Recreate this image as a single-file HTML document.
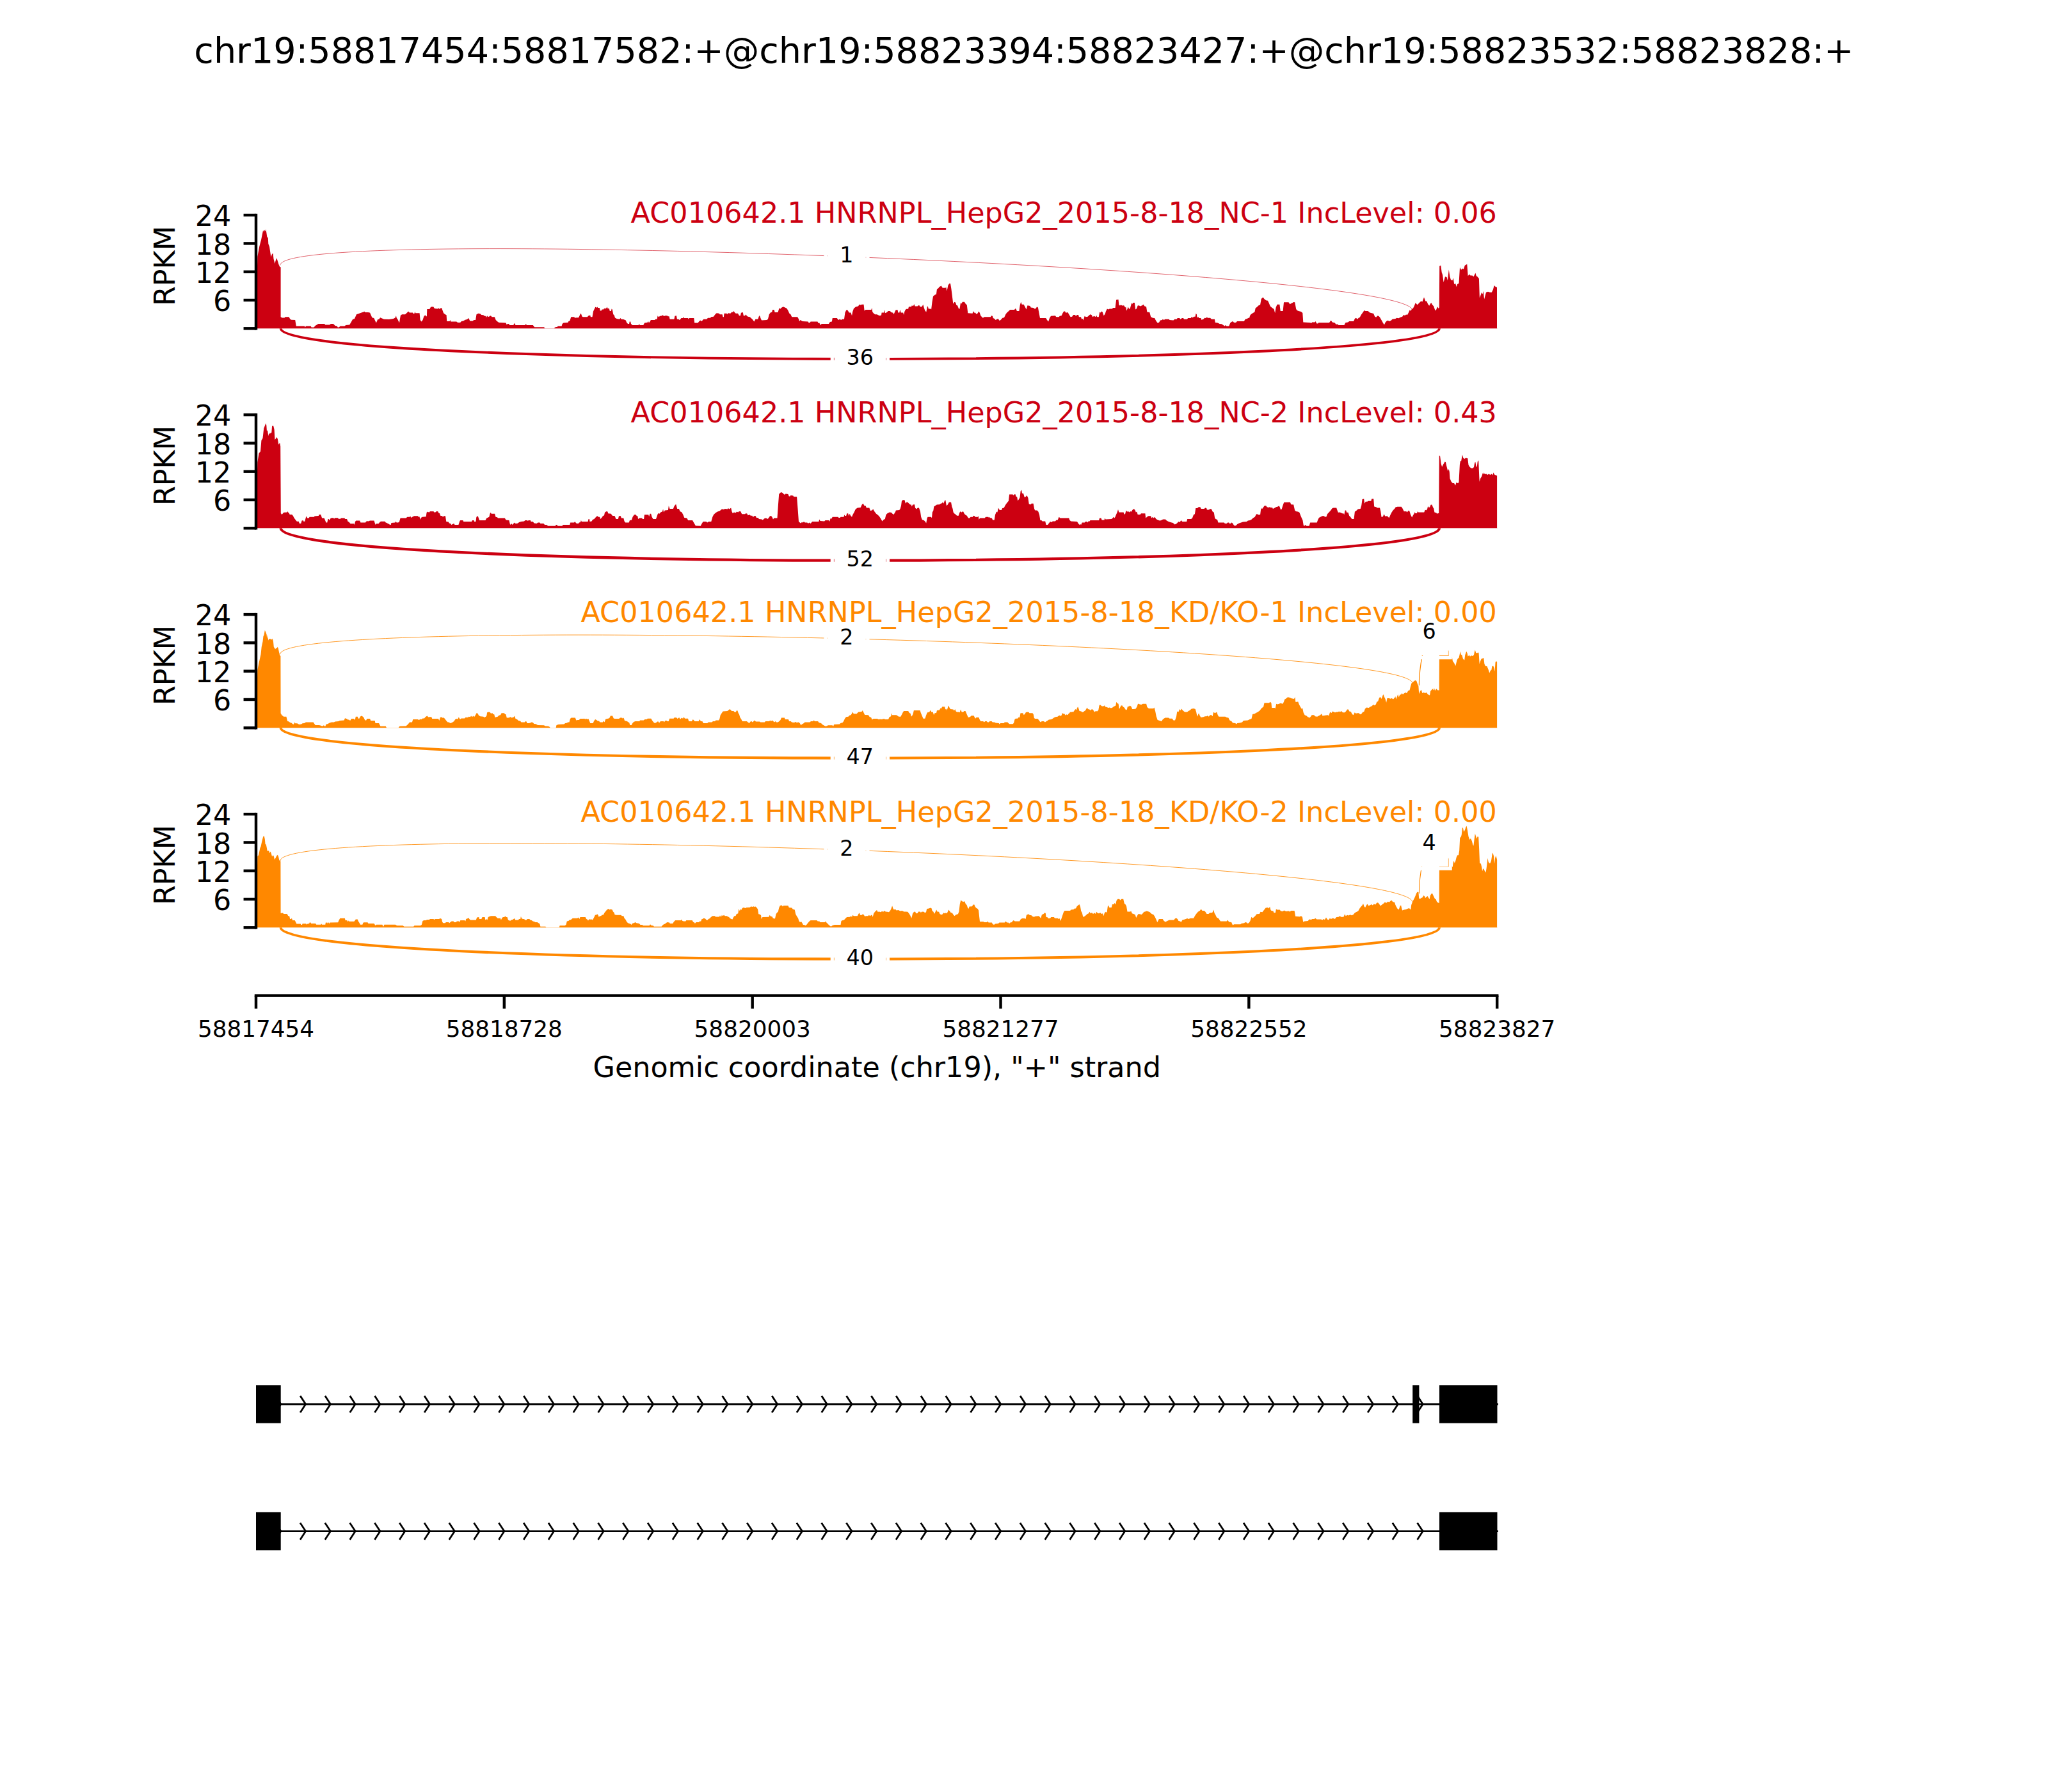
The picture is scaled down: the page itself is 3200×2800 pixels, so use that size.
<!DOCTYPE html><html><head><meta charset="utf-8"><title>sashimi</title><style>html,body{margin:0;padding:0;background:#fff}svg{display:block}</style></head><body>
<svg width="3200" height="2800" viewBox="0 0 3200 2800" font-family="DejaVu Sans, Liberation Sans, sans-serif">
<rect width="3200" height="2800" fill="#fff"/>
<text x="1600.0" y="98.0" font-size="55.56" text-anchor="middle" fill="#000" >chr19:58817454:58817582:+@chr19:58823394:58823427:+@chr19:58823532:58823828:+</text>
<g>
<path d="M400.0,513.3 L402.3,400.9 L405.2,385.6 L408.1,374.5 L411.1,359.8 L412.2,362.2 L413.4,359.3 L414.6,361.6 L415.5,358.1 L417.5,371.6 L418.7,370.4 L419.3,380.9 L421.0,385.6 L423.4,401.4 L425.1,396.8 L426.6,395.9 L427.5,404.4 L429.5,412.0 L430.6,407.3 L432.4,403.2 L433.9,407.9 L435.7,413.8 L437.4,417.3 L438.6,417.3 L438.6,495.2 L440.7,496.6 L444.6,496.6 L445.6,495.2 L451.5,495.2 L453.4,498.7 L455.4,499.7 L461.2,500.1 L462.8,509.5 L475.9,509.5 L476.9,511.4 L477.9,509.5 L485.7,509.5 L486.6,511.4 L490.5,511.4 L492.5,508.9 L497.4,505.9 L507.1,505.9 L508.1,507.5 L515.0,507.5 L516.9,505.9 L520.8,505.9 L523.8,508.9 L526.7,509.5 L527.7,511.4 L529.6,511.4 L531.6,509.5 L538.4,509.5 L540.4,507.9 L546.2,507.5 L551.1,499.1 L554.0,498.1 L557.0,491.3 L559.9,490.3 L564.8,488.4 L569.6,486.8 L570.6,488.0 L575.5,488.0 L576.9,488.4 L578.0,488.4 L581.4,496.2 L584.3,497.1 L587.8,504.4 L590.2,499.1 L592.1,499.1 L594.1,496.2 L599.9,498.7 L607.7,499.1 L609.7,498.7 L614.6,498.1 L617.5,496.6 L618.9,493.2 L619.8,497.1 L621.4,499.1 L623.9,504.4 L625.9,492.7 L628.2,491.3 L633.1,491.3 L636.1,488.4 L638.0,486.4 L640.0,488.4 L644.8,488.4 L645.8,489.9 L647.4,489.9 L648.4,486.8 L649.1,489.3 L655.6,489.3 L656.6,500.1 L658.5,502.4 L660.5,500.1 L662.4,494.2 L664.4,492.3 L665.7,494.2 L666.9,494.2 L667.3,482.9 L671.2,482.9 L673.2,479.6 L677.1,479.2 L679.0,482.1 L683.9,482.5 L684.9,480.9 L685.9,482.5 L687.8,482.5 L688.8,480.9 L690.2,481.5 L691.7,485.4 L693.1,489.3 L695.6,491.3 L697.6,492.3 L698.2,502.0 L702.5,502.0 L703.4,500.1 L704.4,502.4 L713.2,502.4 L715.2,504.0 L719.1,504.0 L721.0,502.0 L723.9,501.6 L726.9,499.7 L729.8,499.1 L732.3,497.1 L734.3,501.6 L738.6,501.6 L740.5,500.1 L743.1,500.1 L744.5,491.3 L747.4,489.7 L750.3,490.3 L752.3,491.9 L755.2,492.3 L757.1,493.8 L758.7,493.8 L759.7,496.2 L761.1,493.2 L762.6,495.2 L765.0,494.2 L765.9,493.2 L767.5,493.8 L768.5,495.2 L772.8,495.2 L774.7,500.1 L776.7,502.0 L779.6,504.0 L790.4,504.4 L791.9,507.5 L792.9,505.9 L795.2,505.9 L796.2,507.9 L802.1,507.9 L804.4,504.4 L805.4,507.9 L820.6,507.9 L821.6,505.9 L823.0,507.9 L828.4,507.9 L832.7,507.9 L835.2,511.2 L850.3,511.2 L851.2,513.2 L865.9,513.2 L866.9,511.4 L870.8,510.8 L871.8,509.5 L877.6,509.5 L878.6,505.9 L880.5,504.4 L887.4,504.0 L888.4,502.0 L890.3,501.6 L892.3,495.2 L897.1,495.2 L898.1,496.6 L901.1,496.6 L901.6,495.2 L902.4,496.6 L904.0,496.2 L905.0,494.6 L906.9,490.3 L907.9,489.9 L909.5,494.6 L910.8,495.2 L917.7,495.2 L919.6,493.2 L921.2,493.2 L922.0,491.9 L922.9,495.2 L925.5,495.2 L927.0,486.4 L928.4,483.5 L930.4,479.6 L931.7,480.9 L933.3,479.6 L934.3,480.9 L936.8,480.9 L937.8,485.4 L939.5,485.4 L940.7,483.5 L943.0,483.5 L944.0,482.1 L947.0,482.1 L948.5,479.6 L949.5,482.1 L951.8,482.1 L952.8,486.0 L954.8,486.0 L955.7,482.5 L956.7,483.5 L958.3,491.3 L959.6,492.3 L961.0,496.6 L963.6,498.1 L968.0,498.7 L969.4,497.1 L970.8,498.7 L974.3,499.1 L977.8,500.5 L979.2,504.0 L981.1,505.9 L983.1,505.9 L983.7,502.4 L985.2,502.4 L986.0,505.9 L988.0,507.9 L997.7,507.9 L998.7,505.9 L999.7,507.9 L1005.2,507.9 L1007.1,504.4 L1011.4,504.0 L1013.0,502.0 L1013.9,504.4 L1015.9,502.0 L1016.9,500.1 L1023.1,500.1 L1024.1,498.7 L1026.6,498.7 L1027.6,493.2 L1029.0,495.2 L1031.5,493.8 L1034.8,493.2 L1035.8,491.9 L1036.8,493.8 L1038.4,493.8 L1039.1,493.2 L1042.7,493.2 L1043.6,494.2 L1045.6,494.2 L1046.6,498.7 L1053.4,498.7 L1054.4,493.8 L1056.9,493.2 L1057.9,498.7 L1060.2,498.7 L1061.8,500.1 L1063.2,498.7 L1064.5,497.1 L1067.1,497.1 L1068.0,495.2 L1069.0,497.1 L1074.9,497.1 L1075.9,498.7 L1076.8,497.1 L1084.3,497.1 L1085.2,504.4 L1090.5,504.4 L1092.5,502.0 L1094.4,500.5 L1095.4,502.0 L1097.3,501.1 L1099.3,498.7 L1104.2,498.7 L1106.1,496.8 L1110.0,496.8 L1111.0,495.2 L1114.9,494.8 L1117.9,490.7 L1119.8,489.3 L1123.7,489.7 L1124.7,491.3 L1128.6,491.3 L1129.6,495.2 L1130.9,495.2 L1131.5,489.7 L1135.4,489.7 L1136.4,491.3 L1137.4,489.3 L1141.3,489.7 L1143.2,487.8 L1145.2,487.8 L1146.6,486.0 L1148.1,488.4 L1149.7,489.7 L1153.0,489.7 L1155.0,493.2 L1156.9,493.2 L1157.9,488.8 L1160.8,488.0 L1161.8,493.2 L1164.1,493.2 L1165.3,491.3 L1166.7,493.2 L1168.6,494.8 L1171.6,495.2 L1173.5,497.1 L1175.5,498.7 L1178.4,502.4 L1180.4,498.7 L1184.3,498.7 L1186.2,493.2 L1187.2,493.8 L1189.1,498.7 L1190.1,500.5 L1197.9,500.1 L1199.9,498.7 L1201.8,491.3 L1203.8,488.4 L1206.3,487.4 L1207.1,484.1 L1209.6,484.1 L1210.6,488.0 L1215.5,488.0 L1217.5,481.5 L1219.4,482.5 L1220.7,480.9 L1223.7,479.2 L1226.6,480.5 L1229.5,482.1 L1231.5,485.4 L1233.4,489.7 L1235.4,491.3 L1237.3,495.2 L1246.1,495.2 L1248.1,498.7 L1249.1,502.0 L1250.6,500.1 L1253.9,502.0 L1262.7,502.4 L1263.7,504.4 L1265.7,504.0 L1266.6,502.4 L1277.4,502.4 L1278.8,505.0 L1280.3,504.4 L1281.9,507.9 L1283.8,505.9 L1295.0,505.9 L1296.9,503.0 L1299.8,502.4 L1300.8,497.1 L1307.7,497.1 L1310.0,500.1 L1312.0,498.7 L1314.5,500.1 L1315.5,498.7 L1319.0,498.7 L1320.4,488.4 L1322.3,484.5 L1324.3,484.5 L1326.8,488.4 L1329.5,488.4 L1331.1,493.2 L1332.1,487.4 L1334.0,482.1 L1337.0,479.6 L1340.9,478.6 L1342.8,475.7 L1344.8,476.6 L1346.7,475.7 L1349.6,475.7 L1350.6,485.4 L1352.6,484.1 L1361.4,484.1 L1362.3,480.9 L1363.3,487.4 L1365.3,489.7 L1367.2,491.3 L1370.2,491.3 L1372.1,492.3 L1374.1,493.2 L1377.0,492.7 L1377.6,488.4 L1380.9,488.4 L1381.5,484.1 L1382.9,489.3 L1385.8,488.0 L1387.7,486.0 L1390.7,486.0 L1392.6,488.0 L1395.5,488.8 L1396.5,491.3 L1397.9,488.0 L1399.5,484.5 L1402.4,484.1 L1403.4,488.4 L1405.3,488.4 L1406.3,484.1 L1407.7,488.4 L1411.2,488.4 L1412.1,491.9 L1413.5,486.4 L1415.1,483.5 L1417.0,482.5 L1419.0,482.9 L1420.0,479.2 L1423.9,479.2 L1424.8,477.2 L1426.8,478.2 L1428.4,475.3 L1429.7,478.6 L1433.6,478.6 L1434.6,477.2 L1436.6,477.2 L1437.5,479.2 L1440.5,479.2 L1442.4,475.7 L1443.8,480.9 L1445.4,485.4 L1447.3,487.4 L1448.7,479.6 L1449.8,478.6 L1450.8,482.5 L1454.1,482.5 L1455.1,483.5 L1456.5,471.8 L1458.0,463.0 L1461.0,460.6 L1462.9,460.0 L1463.9,452.2 L1466.2,450.3 L1467.8,448.3 L1470.7,446.4 L1472.7,449.7 L1477.6,449.7 L1478.2,448.3 L1479.5,454.8 L1481.5,445.4 L1483.4,443.0 L1485.0,443.0 L1486.4,451.2 L1487.7,461.4 L1489.3,474.7 L1491.2,471.8 L1493.2,472.7 L1494.2,476.6 L1496.1,477.6 L1498.1,482.5 L1499.5,482.5 L1501.0,472.7 L1502.0,474.7 L1503.9,471.8 L1506.9,471.8 L1508.8,474.7 L1510.8,476.6 L1512.3,489.3 L1519.6,489.7 L1520.5,486.0 L1522.1,488.4 L1524.1,488.8 L1525.4,490.7 L1527.4,489.7 L1529.3,486.4 L1530.7,488.4 L1532.3,493.2 L1534.2,495.2 L1535.8,496.8 L1538.1,495.2 L1547.9,495.2 L1548.9,493.2 L1550.8,493.8 L1551.8,497.1 L1553.8,498.1 L1555.7,500.1 L1557.7,498.7 L1559.6,498.1 L1561.6,501.1 L1563.5,500.1 L1566.4,496.8 L1569.0,496.2 L1571.3,491.3 L1573.3,488.4 L1576.2,486.0 L1578.2,484.1 L1585.0,484.1 L1586.6,482.1 L1587.9,483.5 L1588.9,486.0 L1592.4,486.0 L1593.8,476.6 L1595.2,471.8 L1596.7,475.7 L1599.6,475.7 L1601.6,479.6 L1603.6,483.5 L1605.5,477.2 L1609.4,478.0 L1610.7,480.5 L1614.6,480.9 L1616.6,482.5 L1618.6,482.1 L1620.1,479.2 L1621.9,480.5 L1623.4,488.4 L1625.0,497.1 L1634.2,497.1 L1636.1,500.1 L1638.1,502.4 L1640.0,497.1 L1642.0,493.8 L1648.8,493.2 L1650.4,495.2 L1654.7,495.2 L1655.7,493.8 L1658.6,493.2 L1660.2,489.7 L1662.1,486.4 L1664.1,486.4 L1665.4,488.8 L1668.4,488.0 L1670.3,491.3 L1672.7,495.2 L1675.2,494.8 L1677.1,491.9 L1679.7,491.9 L1681.1,493.8 L1683.0,491.9 L1685.0,491.9 L1685.9,495.2 L1688.9,495.2 L1690.2,498.7 L1691.8,498.1 L1692.8,500.5 L1694.7,493.8 L1696.7,495.2 L1699.6,494.8 L1701.6,492.7 L1703.5,491.3 L1705.5,491.9 L1707.4,495.2 L1709.4,493.8 L1712.3,495.2 L1713.3,492.7 L1714.3,495.2 L1716.8,495.2 L1718.2,487.4 L1719.5,488.4 L1721.1,486.4 L1722.7,487.4 L1724.6,493.2 L1726.6,490.7 L1727.9,486.4 L1729.9,482.5 L1731.8,483.5 L1733.8,482.5 L1737.7,482.5 L1739.1,480.9 L1742.6,480.9 L1744.1,468.4 L1747.5,467.9 L1748.4,476.6 L1750.0,477.6 L1751.4,476.2 L1753.3,477.6 L1756.2,477.2 L1758.2,480.5 L1759.2,479.2 L1760.2,485.4 L1761.7,482.5 L1762.5,479.2 L1764.1,482.5 L1765.6,482.5 L1767.0,477.6 L1768.0,473.7 L1769.5,474.7 L1770.3,473.1 L1772.9,473.1 L1774.2,483.5 L1775.8,482.5 L1777.7,477.6 L1779.7,477.2 L1781.6,478.6 L1784.6,477.2 L1786.5,475.7 L1788.5,478.6 L1791.0,479.2 L1792.4,487.4 L1796.3,488.0 L1798.2,495.2 L1801.2,496.8 L1804.1,497.1 L1806.1,501.1 L1808.6,504.4 L1810.9,504.0 L1812.9,500.5 L1815.8,500.1 L1816.8,498.7 L1818.8,500.1 L1820.3,498.7 L1826.6,498.7 L1827.5,500.1 L1833.4,500.5 L1835.4,498.7 L1838.7,498.7 L1839.8,497.1 L1843.2,497.1 L1844.1,498.7 L1847.1,497.1 L1849.0,497.1 L1850.0,498.7 L1854.9,498.7 L1856.2,497.1 L1860.7,497.1 L1861.7,495.2 L1863.7,496.2 L1865.6,494.8 L1867.6,494.8 L1868.6,489.7 L1869.9,491.3 L1870.5,496.2 L1872.5,495.2 L1873.4,497.1 L1876.4,497.1 L1877.3,499.7 L1880.3,498.7 L1882.2,496.8 L1884.8,497.1 L1885.5,495.2 L1887.1,496.8 L1891.0,496.8 L1893.0,498.7 L1897.9,498.7 L1898.8,504.0 L1902.7,504.4 L1905.7,505.9 L1908.6,506.3 L1911.5,507.9 L1913.5,509.5 L1914.8,507.9 L1916.4,509.5 L1920.3,509.5 L1922.3,504.4 L1924.2,503.0 L1926.2,502.0 L1928.1,504.0 L1931.1,504.0 L1933.0,502.0 L1943.8,502.0 L1945.7,498.7 L1948.6,498.1 L1950.6,496.8 L1952.1,496.8 L1953.1,493.2 L1954.5,491.3 L1957.4,489.3 L1960.4,487.4 L1961.7,481.5 L1964.3,479.6 L1966.2,477.6 L1969.1,476.2 L1970.7,466.9 L1973.4,464.5 L1975.4,466.9 L1977.0,468.4 L1978.9,469.4 L1980.9,469.8 L1982.4,472.7 L1984.8,478.6 L1987.7,480.9 L1990.6,482.9 L1992.2,489.3 L1993.6,480.5 L1995.5,475.7 L1999.4,475.7 L2000.7,486.0 L2004.6,486.0 L2006.0,472.3 L2013.4,472.3 L2015.4,475.3 L2017.3,474.3 L2019.3,473.3 L2021.2,472.0 L2023.2,472.3 L2025.2,483.1 L2026.7,485.0 L2029.1,486.0 L2033.0,487.0 L2035.3,488.9 L2036.3,503.6 L2047.6,504.2 L2048.6,505.2 L2050.2,503.6 L2054.5,503.6 L2055.4,502.0 L2057.4,505.5 L2059.3,505.5 L2060.3,504.2 L2076.9,504.2 L2078.9,501.6 L2079.8,500.7 L2081.8,503.6 L2085.7,504.6 L2087.7,507.1 L2089.6,506.5 L2091.6,507.9 L2100.4,507.9 L2102.3,504.2 L2106.2,503.6 L2108.2,502.0 L2115.0,502.0 L2117.0,497.7 L2118.9,496.8 L2120.9,498.7 L2122.8,496.8 L2124.8,495.8 L2126.7,491.9 L2129.6,488.0 L2131.6,485.0 L2133.6,486.0 L2137.5,486.0 L2140.4,488.4 L2144.3,489.5 L2146.2,489.9 L2148.2,494.8 L2150.2,495.8 L2152.1,493.4 L2154.1,493.8 L2156.0,495.8 L2158.9,500.7 L2160.9,504.6 L2162.9,507.5 L2164.8,503.6 L2166.8,501.6 L2168.7,500.7 L2170.7,502.0 L2173.6,500.7 L2175.5,498.7 L2180.4,498.1 L2182.4,496.8 L2185.3,497.3 L2188.2,495.8 L2191.2,494.8 L2193.1,491.9 L2195.1,492.9 L2197.0,491.5 L2199.0,491.9 L2200.9,488.4 L2202.9,484.1 L2204.5,486.0 L2205.8,483.1 L2207.8,482.1 L2209.7,478.2 L2211.7,473.3 L2214.6,476.2 L2216.6,474.3 L2218.5,472.3 L2220.5,470.4 L2222.4,471.4 L2225.0,464.5 L2227.3,470.4 L2229.3,470.8 L2231.2,475.3 L2233.2,477.8 L2235.1,474.3 L2236.5,473.3 L2238.0,476.2 L2240.0,478.2 L2242.0,483.7 L2243.5,485.6 L2245.9,479.2 L2247.8,482.1 L2248.8,480.2 L2249.2,415.7 L2251.3,414.7 L2252.7,425.5 L2254.1,429.4 L2255.6,441.1 L2258.0,432.3 L2260.5,432.9 L2261.9,438.2 L2263.8,421.6 L2265.4,432.3 L2267.0,437.2 L2269.3,438.2 L2270.7,434.3 L2272.2,444.0 L2274.2,443.0 L2275.7,447.9 L2277.1,444.0 L2279.5,442.7 L2281.0,417.7 L2283.0,421.6 L2285.3,419.6 L2286.9,420.6 L2288.8,414.7 L2292.3,412.8 L2293.7,431.3 L2295.7,428.4 L2297.6,430.4 L2300.5,430.4 L2302.5,432.3 L2305.4,426.4 L2306.8,431.3 L2308.4,432.3 L2310.9,435.2 L2311.9,465.5 L2313.8,460.6 L2315.2,456.7 L2316.6,459.6 L2317.7,454.8 L2319.1,467.5 L2322.0,456.7 L2325.0,455.7 L2327.9,456.7 L2330.8,456.7 L2332.8,452.8 L2334.7,446.0 L2336.7,447.9 L2339.0,448.9 L2339.0,513.3 Z M400.0,513.05H2339.5V513.30H400.0Z" fill="#CC0011"/>
<path d="M437.7,414.5 C437.7,349.3 2207.2,420.0 2207.2,485.2" fill="none" stroke="#CC0011" stroke-width="0.62"/><path d="M438.7,513.3 C438.7,576.8 2249.0,576.8 2249.0,513.3" fill="none" stroke="#CC0011" stroke-width="3.90"/><path d="M1287.37,359.82H1358.53V442.08H1287.37ZM1292.63,365.08H1353.27V436.82H1292.63ZM1293.23,365.68H1352.67V436.22H1293.23Z" fill="#fff" fill-rule="evenodd"/><text x="1322.9" y="410.2" font-size="33.33" text-anchor="middle" fill="#000" >1</text><path d="M1297.66,519.79H1390.04V602.05H1297.66ZM1302.92,525.05H1384.78V596.79H1302.92ZM1303.52,525.65H1384.18V596.19H1303.52Z" fill="#fff" fill-rule="evenodd"/><text x="1343.8" y="570.1" font-size="33.33" text-anchor="middle" fill="#000" >36</text>
<rect x="397.78" y="333.88" width="4.44" height="181.64" fill="#000"/>
<rect x="380.56" y="511.08" width="19.44" height="4.44" fill="#000"/>
<rect x="380.56" y="466.78" width="19.44" height="4.44" fill="#000"/>
<text x="361.2" y="486.2" font-size="44.44" text-anchor="end" fill="#000" >6</text>
<rect x="380.56" y="422.48" width="19.44" height="4.44" fill="#000"/>
<text x="361.2" y="441.9" font-size="44.44" text-anchor="end" fill="#000" >12</text>
<rect x="380.56" y="378.18" width="19.44" height="4.44" fill="#000"/>
<text x="361.2" y="397.6" font-size="44.44" text-anchor="end" fill="#000" >18</text>
<rect x="380.56" y="333.88" width="19.44" height="4.44" fill="#000"/>
<text x="361.2" y="353.3" font-size="44.44" text-anchor="end" fill="#000" >24</text>
<text transform="translate(273.0,415.5) rotate(-90)" font-size="44.44" text-anchor="middle" fill="#000">RPKM</text>
<text x="985.6" y="348.1" font-size="44.44" text-anchor="start" fill="#CC0011" textLength="1353.3" lengthAdjust="spacing">AC010642.1 HNRNPL_HepG2_2015-8-18_NC-1 IncLevel: 0.06</text>
</g>
<g>
<path d="M400.0,825.3 L402.3,722.2 L404.6,708.2 L407.0,705.2 L408.4,688.3 L410.5,684.7 L412.2,669.5 L414.0,664.8 L415.5,661.3 L416.3,664.8 L416.9,673.0 L418.1,672.4 L419.3,681.2 L420.4,675.9 L421.6,678.3 L422.8,676.5 L424.3,675.9 L425.1,665.4 L427.2,665.4 L428.6,671.3 L429.5,687.1 L431.0,685.3 L432.4,683.0 L433.9,685.9 L435.3,694.7 L437.2,691.8 L438.2,697.6 L438.8,801.9 L440.4,804.0 L443.3,800.8 L448.6,800.5 L449.4,799.0 L450.3,800.8 L451.5,801.3 L452.7,804.0 L456.2,804.0 L457.9,806.0 L459.7,809.5 L462.0,812.5 L463.8,814.8 L466.7,814.8 L467.9,818.1 L470.2,818.1 L471.6,813.4 L473.8,813.1 L474.3,814.8 L476.3,814.8 L478.4,806.4 L480.2,809.5 L482.5,809.5 L483.7,807.8 L490.7,807.8 L491.6,806.4 L497.8,806.0 L498.6,804.0 L501.3,804.0 L503.1,809.5 L506.6,809.5 L509.5,816.6 L511.3,816.6 L512.4,811.3 L513.8,811.1 L514.5,813.1 L516.5,809.9 L518.3,809.2 L521.2,809.2 L522.0,810.7 L523.2,809.2 L527.9,809.2 L529.1,810.7 L531.8,810.7 L532.9,809.5 L538.2,809.5 L539.4,811.1 L542.1,811.1 L543.5,814.8 L545.2,815.4 L547.6,818.3 L552.9,818.3 L553.7,820.1 L555.2,814.8 L556.4,813.4 L562.2,813.4 L563.4,816.6 L571.0,816.6 L572.2,814.8 L574.0,814.2 L575.7,814.6 L578.1,813.4 L584.5,813.4 L585.7,817.2 L586.8,820.1 L588.0,818.3 L591.5,818.3 L593.3,816.0 L595.0,814.8 L601.5,814.8 L602.7,816.6 L604.4,816.9 L606.2,818.3 L607.9,818.7 L609.1,820.1 L610.6,820.1 L611.5,816.9 L617.3,816.6 L618.5,814.8 L619.7,816.6 L621.3,816.4 L623.7,816.0 L625.6,809.5 L634.4,809.5 L636.4,807.8 L640.3,807.8 L641.2,806.2 L642.2,809.1 L644.2,807.8 L647.1,806.2 L653.0,806.2 L653.9,807.8 L655.5,807.2 L656.5,812.1 L657.9,809.1 L659.8,807.8 L665.7,807.2 L666.6,800.8 L668.6,799.4 L670.2,800.8 L672.1,799.0 L677.4,799.0 L678.4,800.4 L680.3,800.4 L681.9,799.0 L684.2,799.0 L685.2,801.3 L687.1,802.3 L688.1,805.8 L691.1,806.2 L692.0,807.8 L693.6,806.2 L695.9,806.2 L697.3,815.0 L700.8,815.6 L701.8,817.5 L703.8,817.9 L705.3,819.9 L709.2,817.9 L710.6,819.9 L716.4,819.9 L718.4,814.0 L719.4,813.1 L723.3,813.1 L724.3,815.0 L737.0,815.0 L737.9,813.1 L740.5,813.1 L741.2,815.0 L743.4,815.0 L744.4,807.8 L746.7,806.2 L747.7,809.1 L749.1,813.1 L758.4,813.1 L760.4,809.5 L764.3,807.8 L765.7,802.3 L766.8,800.8 L767.8,802.7 L773.1,802.7 L774.5,807.8 L777.0,808.2 L778.0,809.5 L788.7,809.5 L790.7,812.5 L795.5,813.1 L797.1,819.9 L799.1,817.9 L800.4,819.9 L803.0,817.5 L804.3,816.4 L805.3,817.9 L808.2,817.9 L811.2,816.0 L814.1,815.0 L819.0,814.4 L820.5,813.1 L823.9,813.1 L824.8,814.0 L825.8,813.1 L828.8,813.1 L829.7,815.0 L832.7,815.0 L834.6,817.5 L838.5,817.9 L840.5,816.4 L843.4,816.4 L844.4,817.9 L849.3,817.9 L851.2,819.9 L854.1,819.9 L856.1,821.8 L867.8,821.8 L868.8,819.9 L870.4,819.9 L871.3,821.8 L878.6,821.8 L879.5,819.9 L890.3,819.9 L891.2,816.4 L897.1,816.4 L898.1,815.0 L899.5,816.4 L901.0,817.9 L903.9,817.9 L904.9,816.4 L906.9,816.0 L907.9,813.1 L908.8,815.0 L918.6,815.0 L919.6,811.1 L920.9,811.1 L921.5,815.0 L924.5,814.4 L926.0,812.1 L928.4,811.1 L931.3,807.8 L933.2,806.2 L935.2,807.8 L937.1,807.8 L938.1,811.1 L940.1,809.1 L942.0,806.2 L944.0,805.2 L945.0,800.8 L947.5,799.0 L949.5,799.4 L950.2,802.3 L954.7,802.7 L956.7,805.8 L960.6,806.2 L962.5,811.1 L965.9,811.1 L967.0,806.2 L969.8,806.2 L970.9,809.5 L974.3,809.5 L975.6,814.4 L977.2,816.4 L982.7,816.4 L984.0,813.1 L987.0,812.5 L988.5,807.8 L990.9,804.3 L993.8,804.3 L994.8,806.2 L996.3,806.2 L997.1,811.1 L999.1,809.5 L1003.0,809.5 L1004.1,811.1 L1006.1,811.1 L1006.9,804.3 L1009.4,804.3 L1013.3,804.3 L1014.1,807.2 L1015.6,802.7 L1017.2,802.7 L1018.6,807.8 L1020.5,811.1 L1025.0,811.1 L1027.3,804.3 L1028.3,801.9 L1030.3,802.7 L1032.2,800.4 L1034.8,799.4 L1036.1,795.5 L1037.1,800.4 L1038.7,797.4 L1043.9,797.0 L1044.9,790.2 L1046.5,794.9 L1051.8,794.9 L1053.7,790.6 L1056.2,787.7 L1058.2,794.9 L1060.9,794.9 L1062.5,799.0 L1065.4,800.4 L1067.4,804.3 L1069.3,809.1 L1073.2,809.5 L1075.2,813.1 L1082.0,813.1 L1084.0,816.4 L1086.9,821.5 L1094.7,821.8 L1096.7,817.9 L1098.6,815.0 L1103.5,815.0 L1105.1,816.4 L1107.4,815.0 L1111.3,815.0 L1113.3,807.8 L1115.2,803.9 L1118.2,801.3 L1121.1,799.4 L1125.0,798.0 L1127.9,795.5 L1130.9,796.1 L1132.8,794.9 L1136.7,795.5 L1137.7,794.1 L1139.6,795.5 L1142.2,793.5 L1143.6,799.4 L1144.9,801.9 L1146.9,800.4 L1149.4,801.3 L1151.4,799.4 L1153.3,800.4 L1154.7,799.0 L1157.2,799.0 L1159.2,803.3 L1164.1,803.3 L1165.6,801.9 L1167.6,802.7 L1168.4,805.2 L1171.5,804.3 L1172.9,805.8 L1175.4,805.8 L1176.8,808.2 L1178.1,806.2 L1180.7,806.2 L1182.0,809.1 L1184.6,809.1 L1185.9,811.1 L1190.4,811.5 L1191.8,812.5 L1193.4,811.1 L1195.3,809.5 L1198.2,810.1 L1199.6,811.1 L1201.2,809.1 L1203.1,806.2 L1205.1,806.2 L1206.6,808.2 L1208.0,811.5 L1209.4,809.5 L1214.5,809.5 L1215.8,790.6 L1217.2,772.0 L1220.3,769.1 L1222.7,770.1 L1224.6,772.0 L1226.2,773.0 L1227.5,771.6 L1231.4,772.0 L1232.8,775.4 L1234.4,775.4 L1235.4,774.0 L1239.3,774.4 L1240.2,775.9 L1245.1,776.3 L1246.5,794.5 L1248.0,815.0 L1251.0,817.5 L1252.9,816.0 L1254.9,816.4 L1255.9,815.0 L1257.8,816.4 L1261.3,816.4 L1262.7,817.9 L1264.6,816.4 L1266.6,817.9 L1269.1,815.0 L1279.3,815.0 L1280.3,811.5 L1281.6,814.0 L1288.1,814.4 L1289.5,813.1 L1294.9,813.1 L1295.9,815.0 L1297.9,809.5 L1298.8,811.1 L1300.8,807.8 L1309.6,807.8 L1310.5,809.1 L1312.5,809.1 L1313.5,807.8 L1318.4,807.8 L1319.3,804.3 L1320.3,806.2 L1322.3,805.8 L1323.2,802.3 L1325.2,802.3 L1326.2,806.2 L1327.7,802.7 L1329.1,805.8 L1331.1,807.8 L1332.4,804.3 L1334.4,800.8 L1336.9,795.5 L1339.8,793.5 L1344.7,793.1 L1346.7,788.6 L1348.6,786.7 L1350.6,790.2 L1352.5,790.2 L1353.9,793.5 L1358.4,793.5 L1359.8,798.0 L1362.3,797.4 L1364.3,795.5 L1366.2,799.0 L1369.1,802.7 L1371.1,804.3 L1373.4,806.2 L1376.0,810.1 L1378.5,814.4 L1380.5,812.1 L1382.8,811.1 L1384.4,804.3 L1386.7,801.9 L1389.6,800.4 L1392.6,800.8 L1394.5,802.7 L1396.5,803.9 L1399.4,799.0 L1399.8,797.4 L1405.2,797.0 L1406.6,794.9 L1408.0,790.2 L1408.9,783.2 L1410.5,781.2 L1413.4,781.2 L1415.0,786.7 L1416.4,784.7 L1418.3,784.7 L1420.3,786.7 L1422.2,788.6 L1423.6,788.2 L1424.8,791.6 L1426.1,788.6 L1429.1,788.2 L1430.0,793.5 L1432.0,795.5 L1433.9,793.5 L1435.9,793.5 L1437.9,799.0 L1439.2,807.8 L1440.8,812.1 L1443.7,813.1 L1445.7,815.0 L1447.2,817.5 L1448.6,809.5 L1449.6,807.8 L1454.5,807.8 L1456.0,809.1 L1456.8,800.4 L1458.4,797.4 L1459.3,791.6 L1461.3,790.2 L1463.8,788.6 L1468.1,788.2 L1470.1,786.7 L1472.0,786.3 L1473.0,784.3 L1474.4,786.7 L1475.9,782.4 L1477.3,781.2 L1478.9,790.2 L1480.8,788.6 L1482.8,784.7 L1486.1,784.7 L1487.3,791.6 L1488.6,794.9 L1489.6,800.4 L1491.6,802.7 L1493.5,803.9 L1495.1,805.8 L1497.8,805.8 L1499.4,800.8 L1500.9,799.0 L1502.3,800.8 L1503.3,799.4 L1505.2,799.4 L1506.8,802.7 L1508.2,804.3 L1510.7,805.8 L1513.0,809.5 L1515.0,809.5 L1516.6,807.8 L1519.9,807.8 L1520.9,805.8 L1522.8,806.2 L1523.8,807.8 L1527.7,807.8 L1528.7,806.2 L1529.6,812.1 L1531.0,809.5 L1538.8,809.5 L1540.0,807.8 L1544.3,807.8 L1545.3,809.5 L1546.2,807.8 L1547.8,809.5 L1549.8,809.5 L1551.1,812.5 L1553.7,812.5 L1555.0,804.3 L1557.0,799.4 L1558.4,800.4 L1559.9,793.5 L1561.5,796.5 L1562.9,797.0 L1564.8,797.0 L1566.2,794.1 L1568.7,793.5 L1570.7,789.6 L1572.6,786.7 L1574.6,784.3 L1575.9,782.8 L1577.1,772.6 L1582.4,772.6 L1583.4,774.0 L1584.9,772.6 L1586.3,772.0 L1587.7,775.9 L1589.2,776.5 L1590.2,782.4 L1592.1,779.9 L1593.5,777.3 L1594.7,767.2 L1596.1,765.6 L1597.0,771.1 L1599.0,771.1 L1600.9,777.3 L1602.9,775.9 L1604.5,774.0 L1606.4,777.9 L1607.8,787.7 L1610.7,788.2 L1611.7,786.7 L1614.6,786.7 L1616.2,795.5 L1617.5,797.4 L1620.5,797.4 L1622.4,799.4 L1624.0,804.3 L1625.4,813.1 L1627.3,813.1 L1628.7,814.4 L1633.2,814.4 L1634.5,819.9 L1637.1,819.9 L1639.0,817.5 L1641.0,815.0 L1642.9,816.0 L1644.9,814.4 L1648.8,814.4 L1650.7,812.5 L1652.7,812.5 L1654.6,807.8 L1656.6,809.5 L1670.3,809.5 L1671.2,812.5 L1673.2,814.4 L1683.0,815.0 L1684.9,817.9 L1686.5,819.9 L1687.9,818.9 L1689.2,819.9 L1690.8,816.4 L1694.7,816.4 L1696.2,815.0 L1698.6,815.0 L1699.6,816.4 L1700.5,814.4 L1702.5,814.4 L1703.5,813.1 L1717.1,813.1 L1718.1,809.5 L1720.5,809.5 L1721.6,812.5 L1725.5,812.5 L1726.3,809.5 L1727.5,811.5 L1736.7,811.1 L1738.6,809.5 L1739.6,807.8 L1741.2,809.5 L1742.5,807.8 L1743.9,804.3 L1745.5,800.8 L1747.0,796.1 L1748.4,800.4 L1755.6,800.4 L1756.8,803.9 L1758.2,802.7 L1759.5,797.4 L1761.1,799.4 L1763.0,799.0 L1764.6,800.4 L1766.0,799.0 L1767.9,799.4 L1769.3,797.0 L1771.8,794.9 L1773.8,797.4 L1774.8,800.4 L1776.3,799.4 L1777.7,803.9 L1781.6,803.9 L1783.0,802.3 L1789.4,802.3 L1790.2,809.5 L1792.7,807.2 L1794.6,806.2 L1798.0,806.2 L1799.5,809.5 L1801.1,807.8 L1802.5,809.5 L1804.4,807.8 L1806.4,811.1 L1809.3,812.5 L1812.2,813.6 L1814.2,813.1 L1817.1,811.5 L1821.0,811.5 L1823.0,813.6 L1825.9,815.0 L1828.8,816.0 L1832.7,817.0 L1835.7,819.5 L1838.6,817.9 L1841.5,815.0 L1843.5,816.0 L1845.4,813.1 L1847.4,815.0 L1854.2,815.0 L1855.2,811.1 L1861.1,811.1 L1863.0,809.5 L1865.0,804.3 L1866.9,803.3 L1868.3,794.1 L1870.8,794.1 L1872.8,792.2 L1875.3,792.2 L1876.7,794.9 L1881.6,794.9 L1883.1,793.5 L1885.1,794.1 L1885.9,796.5 L1889.4,796.5 L1890.4,794.9 L1892.9,795.5 L1894.8,799.4 L1896.8,800.8 L1898.2,809.5 L1899.5,811.1 L1902.1,812.1 L1903.4,816.4 L1912.8,816.4 L1913.8,817.9 L1916.7,817.9 L1918.3,816.4 L1920.2,816.4 L1921.0,817.9 L1923.0,817.9 L1924.1,816.4 L1925.5,817.0 L1927.5,819.9 L1929.4,821.8 L1931.4,820.9 L1933.3,818.9 L1936.2,817.5 L1939.2,816.4 L1942.1,815.6 L1948.0,815.0 L1949.9,813.6 L1952.9,813.1 L1955.8,811.5 L1957.7,809.5 L1960.7,807.8 L1962.6,804.3 L1964.0,802.7 L1965.5,804.3 L1969.1,804.3 L1970.4,793.5 L1971.8,795.5 L1973.4,793.5 L1975.7,790.2 L1978.2,790.2 L1979.6,792.2 L1982.1,792.9 L1984.1,792.2 L1986.1,793.5 L1987.4,792.5 L1989.0,794.9 L1991.9,793.5 L1993.9,792.2 L1996.8,791.6 L1998.4,790.2 L1999.7,792.2 L2001.1,796.5 L2002.7,795.5 L2004.2,790.6 L2006.2,785.1 L2015.9,784.7 L2017.3,788.2 L2021.2,788.6 L2023.2,797.4 L2025.1,799.0 L2028.0,799.4 L2030.4,800.8 L2032.3,805.8 L2033.9,809.5 L2035.5,813.1 L2036.8,820.9 L2038.2,821.8 L2039.8,819.9 L2041.3,821.8 L2045.6,821.8 L2047.2,816.4 L2057.7,816.4 L2059.3,812.1 L2060.9,809.1 L2063.2,807.8 L2066.1,806.2 L2069.1,806.2 L2070.0,807.8 L2072.6,807.2 L2073.9,803.3 L2076.5,800.4 L2078.8,798.0 L2081.8,794.1 L2083.7,793.5 L2088.2,793.5 L2089.6,797.4 L2090.9,800.8 L2093.5,800.4 L2095.4,801.3 L2097.4,802.3 L2099.3,802.3 L2100.3,804.3 L2101.7,797.4 L2103.2,797.4 L2104.2,800.8 L2106.6,800.8 L2108.1,805.8 L2110.1,807.8 L2112.4,811.1 L2115.5,811.1 L2116.9,799.4 L2119.8,797.4 L2121.8,795.5 L2125.7,794.9 L2127.3,789.6 L2128.6,779.9 L2131.2,779.5 L2132.1,786.7 L2133.9,783.8 L2136.4,783.8 L2137.8,782.8 L2142.3,782.8 L2143.3,779.5 L2146.2,779.5 L2147.2,791.6 L2150.1,792.2 L2152.1,793.5 L2156.0,793.5 L2157.3,799.0 L2158.5,807.8 L2160.9,807.2 L2162.4,803.3 L2163.8,805.8 L2165.7,807.2 L2167.1,805.8 L2168.7,807.8 L2170.6,809.1 L2172.6,804.3 L2174.5,800.4 L2176.5,797.4 L2179.4,794.5 L2180.6,792.4 L2183.5,791.7 L2189.6,791.7 L2191.5,794.6 L2193.7,799.0 L2197.4,799.0 L2198.4,800.4 L2201.1,797.5 L2202.5,799.0 L2204.0,804.1 L2206.2,808.5 L2207.7,805.6 L2209.6,802.6 L2210.6,800.2 L2211.6,801.9 L2214.0,801.9 L2215.0,799.0 L2216.4,800.4 L2225.2,800.4 L2226.7,796.8 L2228.9,797.2 L2230.1,795.3 L2231.1,790.9 L2232.6,793.1 L2234.0,792.4 L2235.5,788.7 L2237.4,788.4 L2239.2,793.1 L2240.3,794.6 L2241.4,800.4 L2244.3,801.2 L2245.3,803.1 L2246.5,801.9 L2248.2,801.9 L2248.8,711.8 L2250.1,712.6 L2251.6,724.3 L2253.1,729.4 L2255.0,725.7 L2256.0,724.3 L2257.5,721.4 L2258.9,722.1 L2260.0,727.2 L2261.1,731.6 L2262.3,736.0 L2263.8,733.1 L2264.8,737.5 L2265.5,747.7 L2267.7,752.8 L2269.9,755.0 L2272.1,755.0 L2274.0,758.7 L2275.5,753.6 L2276.5,755.0 L2279.4,754.3 L2280.9,725.7 L2281.9,719.9 L2283.1,720.6 L2284.9,710.4 L2286.3,715.5 L2288.2,717.0 L2290.4,715.5 L2293.3,716.2 L2294.5,726.5 L2296.3,729.4 L2298.5,731.6 L2301.4,731.6 L2302.9,730.1 L2304.3,722.8 L2305.4,722.1 L2306.5,728.7 L2307.7,729.4 L2308.7,721.4 L2310.2,719.2 L2311.2,743.3 L2311.7,752.8 L2313.1,747.7 L2315.3,744.1 L2317.1,738.2 L2318.3,741.1 L2319.7,739.7 L2321.2,741.1 L2322.6,740.4 L2324.1,741.9 L2326.3,740.4 L2328.5,741.9 L2330.7,740.4 L2332.2,742.6 L2333.6,738.2 L2334.7,741.1 L2335.8,741.9 L2337.3,742.6 L2339.1,743.3 L2339.1,825.3 Z M400.0,825.05H2339.5V825.30H400.0Z" fill="#CC0011"/>
<path d="M438.7,825.3 C438.7,892.5 2249.0,892.5 2249.0,825.3" fill="none" stroke="#CC0011" stroke-width="4.29"/><path d="M1297.66,834.57H1390.04V916.83H1297.66ZM1302.92,839.83H1384.78V911.57H1302.92ZM1303.52,840.43H1384.18V910.97H1303.52Z" fill="#fff" fill-rule="evenodd"/><text x="1343.8" y="884.9" font-size="33.33" text-anchor="middle" fill="#000" >52</text>
<rect x="397.78" y="645.88" width="4.44" height="181.64" fill="#000"/>
<rect x="380.56" y="823.08" width="19.44" height="4.44" fill="#000"/>
<rect x="380.56" y="778.78" width="19.44" height="4.44" fill="#000"/>
<text x="361.2" y="798.2" font-size="44.44" text-anchor="end" fill="#000" >6</text>
<rect x="380.56" y="734.48" width="19.44" height="4.44" fill="#000"/>
<text x="361.2" y="753.9" font-size="44.44" text-anchor="end" fill="#000" >12</text>
<rect x="380.56" y="690.18" width="19.44" height="4.44" fill="#000"/>
<text x="361.2" y="709.6" font-size="44.44" text-anchor="end" fill="#000" >18</text>
<rect x="380.56" y="645.88" width="19.44" height="4.44" fill="#000"/>
<text x="361.2" y="665.3" font-size="44.44" text-anchor="end" fill="#000" >24</text>
<text transform="translate(273.0,727.5) rotate(-90)" font-size="44.44" text-anchor="middle" fill="#000">RPKM</text>
<text x="985.6" y="660.1" font-size="44.44" text-anchor="start" fill="#CC0011" textLength="1353.3" lengthAdjust="spacing">AC010642.1 HNRNPL_HepG2_2015-8-18_NC-2 IncLevel: 0.43</text>
</g>
<g>
<path d="M400.0,1137.3 L402.3,1047.1 L404.6,1035.4 L407.5,1022.5 L408.7,1010.8 L410.5,1002.6 L411.4,994.4 L412.6,992.0 L413.8,984.8 L415.2,987.4 L416.6,991.5 L417.3,998.5 L418.4,991.8 L419.3,1000.8 L420.4,997.9 L422.0,998.8 L422.8,997.9 L423.9,999.7 L425.5,997.7 L426.9,1001.4 L427.8,1010.8 L429.2,1013.1 L430.2,1014.3 L431.3,1012.6 L432.5,1013.1 L433.7,1010.8 L434.8,1013.1 L436.0,1019.0 L437.2,1023.7 L438.4,1024.9 L438.6,1114.5 L440.4,1117.4 L443.3,1119.8 L447.4,1119.8 L449.1,1126.8 L451.5,1127.4 L453.2,1128.9 L455.0,1129.2 L458.3,1131.9 L459.7,1130.3 L460.6,1128.6 L461.4,1130.3 L464.4,1130.3 L467.3,1131.9 L470.8,1131.5 L472.6,1130.3 L475.5,1130.1 L477.9,1128.6 L489.6,1128.6 L490.7,1130.3 L492.7,1132.9 L498.4,1132.9 L500.7,1133.6 L503.6,1134.8 L506.0,1133.3 L507.2,1134.8 L508.7,1134.4 L509.1,1131.9 L511.8,1131.3 L515.4,1129.2 L518.3,1128.6 L521.8,1128.6 L523.6,1127.4 L528.8,1127.1 L530.6,1125.9 L537.6,1125.6 L539.1,1122.1 L540.6,1123.1 L542.3,1123.1 L543.1,1124.5 L545.2,1124.5 L546.2,1125.6 L547.8,1125.6 L548.8,1123.1 L552.9,1123.1 L553.7,1124.5 L554.9,1123.9 L555.8,1119.8 L558.7,1119.8 L559.9,1122.7 L561.4,1122.7 L562.8,1119.8 L564.6,1118.6 L566.3,1119.2 L568.1,1120.7 L570.4,1125.6 L572.2,1125.6 L573.4,1123.1 L578.1,1123.1 L579.2,1125.9 L585.7,1125.9 L586.5,1130.1 L592.1,1130.1 L594.5,1134.8 L602.7,1134.8 L604.1,1137.2 L604.9,1137.2 L622.5,1137.2 L624.4,1134.8 L634.2,1134.4 L636.1,1132.9 L638.1,1130.9 L640.0,1128.4 L643.9,1128.4 L645.3,1124.1 L652.7,1124.1 L654.7,1125.1 L656.6,1123.7 L658.6,1124.1 L660.5,1122.5 L662.9,1122.5 L664.8,1120.2 L667.4,1118.6 L669.3,1120.6 L671.3,1120.2 L674.2,1120.2 L675.2,1123.1 L685.0,1123.1 L686.3,1126.0 L687.9,1121.1 L689.5,1120.2 L690.8,1121.5 L693.8,1121.5 L695.7,1124.1 L697.7,1126.4 L699.6,1128.4 L701.6,1128.4 L703.5,1129.9 L706.4,1129.0 L709.4,1127.0 L711.3,1124.1 L713.3,1123.1 L715.2,1123.7 L716.8,1120.6 L718.8,1124.1 L720.7,1122.5 L726.0,1122.5 L727.3,1121.1 L731.2,1121.1 L732.4,1119.8 L734.8,1120.2 L736.1,1118.6 L737.7,1120.2 L739.6,1118.6 L741.0,1120.2 L743.0,1117.2 L744.5,1114.3 L746.5,1114.7 L748.0,1117.8 L750.4,1119.2 L755.3,1119.8 L756.6,1121.1 L759.2,1119.8 L760.5,1117.8 L761.1,1113.3 L763.1,1112.4 L765.6,1112.8 L767.0,1114.7 L769.5,1114.3 L770.5,1115.9 L772.3,1116.3 L773.4,1121.1 L775.8,1120.2 L777.7,1119.8 L779.7,1117.8 L782.0,1117.2 L783.6,1114.3 L787.9,1114.3 L789.1,1115.9 L790.4,1115.9 L791.8,1121.5 L794.3,1121.5 L796.3,1121.1 L797.7,1120.2 L799.6,1121.5 L802.7,1120.6 L804.1,1118.6 L805.5,1123.1 L808.0,1124.1 L810.0,1126.0 L812.9,1126.4 L814.5,1128.4 L819.7,1128.4 L821.1,1127.0 L822.7,1127.6 L823.6,1129.9 L826.6,1129.9 L828.5,1129.4 L830.5,1128.4 L832.8,1129.0 L834.4,1130.9 L837.3,1131.3 L840.2,1132.9 L850.0,1133.3 L852.0,1134.4 L856.8,1134.8 L858.8,1135.8 L859.8,1137.2 L868.6,1137.2 L869.5,1132.9 L872.5,1131.9 L881.2,1131.5 L883.2,1129.9 L886.1,1129.5 L887.1,1128.4 L889.5,1128.4 L891.0,1123.1 L892.6,1121.5 L898.8,1121.5 L900.4,1125.6 L902.7,1125.1 L904.7,1125.1 L906.6,1123.1 L911.5,1123.1 L912.9,1122.7 L914.5,1123.7 L916.0,1122.7 L917.4,1124.1 L919.3,1123.1 L920.7,1126.0 L922.3,1129.9 L926.6,1129.9 L928.1,1126.4 L930.1,1124.1 L932.0,1125.1 L934.0,1126.4 L935.9,1126.4 L937.5,1128.4 L941.8,1128.4 L943.4,1126.4 L944.7,1128.4 L946.1,1123.7 L948.6,1123.1 L950.6,1122.7 L952.5,1121.5 L953.9,1118.6 L957.0,1118.6 L959.0,1122.7 L961.3,1123.1 L967.2,1123.1 L969.1,1121.5 L972.1,1121.5 L973.0,1122.7 L974.6,1121.5 L976.0,1126.0 L979.9,1127.0 L981.8,1128.4 L983.2,1129.0 L984.4,1132.9 L986.7,1132.9 L988.3,1129.9 L990.2,1128.0 L992.6,1127.0 L999.4,1127.0 L999.8,1125.6 L1005.6,1125.6 L1007.6,1124.1 L1010.5,1124.1 L1011.9,1122.7 L1017.3,1122.7 L1018.9,1125.6 L1021.2,1128.4 L1023.2,1129.9 L1026.1,1128.4 L1028.1,1127.0 L1030.0,1129.4 L1032.0,1127.0 L1036.9,1127.0 L1037.9,1128.4 L1039.2,1126.0 L1041.8,1126.0 L1042.7,1127.0 L1044.7,1127.0 L1046.2,1122.7 L1052.5,1122.7 L1054.1,1121.1 L1057.4,1121.5 L1058.4,1123.1 L1059.9,1122.1 L1061.3,1121.1 L1062.7,1124.1 L1065.2,1121.5 L1067.1,1122.7 L1068.5,1120.2 L1070.1,1122.7 L1075.0,1122.7 L1076.3,1127.0 L1080.8,1127.0 L1082.8,1124.1 L1084.1,1125.6 L1085.7,1127.0 L1091.6,1127.0 L1093.1,1124.1 L1095.1,1127.0 L1097.4,1127.0 L1099.0,1129.9 L1105.2,1129.9 L1106.8,1128.4 L1112.1,1128.4 L1114.0,1127.0 L1117.0,1127.0 L1118.5,1125.6 L1123.2,1125.6 L1124.4,1123.1 L1125.7,1117.2 L1127.7,1114.3 L1129.6,1111.4 L1136.5,1111.0 L1138.4,1109.4 L1140.4,1108.1 L1142.0,1109.4 L1143.3,1111.0 L1146.2,1111.0 L1147.8,1112.4 L1149.8,1112.4 L1151.1,1110.0 L1152.5,1110.4 L1153.7,1114.3 L1155.0,1116.3 L1156.4,1121.1 L1158.4,1124.1 L1159.9,1127.0 L1166.8,1127.0 L1168.7,1128.4 L1170.7,1129.9 L1172.6,1127.6 L1174.6,1127.0 L1175.5,1128.4 L1177.5,1127.0 L1179.1,1125.6 L1181.0,1127.6 L1186.9,1127.6 L1188.2,1128.4 L1194.7,1128.4 L1196.1,1127.0 L1201.9,1127.0 L1203.3,1125.6 L1204.8,1127.0 L1206.4,1125.6 L1208.4,1127.0 L1209.7,1128.4 L1211.7,1127.0 L1213.0,1128.4 L1215.6,1128.4 L1217.5,1127.0 L1219.5,1125.1 L1220.9,1121.5 L1225.9,1121.5 L1226.7,1124.1 L1231.8,1124.1 L1233.2,1127.0 L1235.7,1127.0 L1237.1,1128.4 L1241.0,1129.0 L1242.9,1128.0 L1244.9,1129.0 L1247.8,1128.4 L1249.8,1129.9 L1251.3,1132.9 L1253.7,1131.3 L1255.6,1130.3 L1257.6,1128.4 L1265.4,1128.4 L1267.0,1127.0 L1270.3,1127.0 L1271.6,1125.6 L1273.2,1127.0 L1278.1,1127.0 L1279.5,1129.0 L1283.0,1129.9 L1284.9,1131.9 L1287.9,1133.8 L1289.8,1134.8 L1292.3,1134.2 L1293.7,1133.3 L1300.5,1133.3 L1302.1,1134.8 L1303.1,1131.9 L1311.9,1131.5 L1313.2,1129.9 L1316.6,1129.0 L1318.1,1127.0 L1320.1,1122.7 L1322.0,1120.2 L1325.5,1119.8 L1327.5,1117.8 L1329.5,1117.2 L1330.8,1115.3 L1332.2,1112.4 L1333.8,1115.3 L1338.6,1115.3 L1341.2,1112.4 L1346.4,1112.0 L1347.8,1110.0 L1349.4,1113.3 L1351.3,1116.9 L1356.8,1117.2 L1358.8,1120.2 L1361.1,1121.1 L1362.7,1124.5 L1364.6,1123.1 L1370.9,1123.1 L1372.4,1124.1 L1375.7,1123.7 L1377.7,1124.1 L1381.6,1123.1 L1382.6,1124.1 L1388.0,1124.1 L1389.4,1121.1 L1389.8,1120.2 L1392.1,1119.2 L1393.3,1114.3 L1394.1,1117.2 L1400.5,1117.2 L1402.5,1118.6 L1404.4,1119.8 L1407.3,1119.8 L1409.3,1115.9 L1410.9,1112.8 L1412.2,1111.0 L1419.1,1111.0 L1421.0,1113.9 L1422.6,1114.7 L1423.9,1119.8 L1425.9,1117.2 L1426.9,1114.3 L1427.9,1110.0 L1437.6,1110.0 L1438.6,1113.3 L1440.2,1117.2 L1441.5,1120.2 L1442.5,1122.7 L1445.4,1122.7 L1446.8,1118.6 L1448.4,1114.3 L1449.9,1112.4 L1451.3,1113.3 L1453.2,1111.0 L1454.2,1109.4 L1455.2,1112.4 L1457.7,1112.4 L1459.1,1117.2 L1460.5,1114.3 L1463.0,1113.9 L1464.0,1110.0 L1467.9,1109.4 L1469.5,1106.5 L1470.8,1106.9 L1472.2,1104.2 L1476.1,1104.2 L1477.3,1108.5 L1478.6,1107.5 L1479.6,1110.0 L1481.2,1104.5 L1482.1,1102.6 L1483.5,1105.5 L1485.1,1108.1 L1489.4,1108.5 L1490.9,1110.4 L1492.3,1108.1 L1493.7,1111.4 L1495.2,1112.4 L1498.2,1112.4 L1499.5,1113.3 L1501.1,1108.5 L1502.7,1112.4 L1505.0,1112.4 L1506.6,1111.0 L1508.5,1111.0 L1509.9,1114.3 L1511.2,1117.2 L1512.8,1121.1 L1515.7,1120.2 L1517.7,1118.2 L1521.6,1118.2 L1523.0,1121.1 L1524.1,1122.7 L1525.5,1121.1 L1529.4,1121.1 L1530.8,1124.5 L1532.3,1127.0 L1536.2,1127.0 L1537.8,1128.4 L1539.2,1127.0 L1541.7,1127.0 L1543.1,1128.4 L1545.0,1128.4 L1546.4,1127.0 L1549.5,1127.0 L1550.9,1128.4 L1553.8,1128.4 L1555.8,1129.5 L1560.7,1129.9 L1561.6,1131.5 L1563.2,1129.9 L1568.5,1129.9 L1569.8,1128.4 L1574.3,1128.4 L1575.7,1129.9 L1577.3,1131.3 L1582.7,1131.3 L1584.1,1129.5 L1585.5,1124.1 L1587.0,1122.7 L1590.0,1122.7 L1591.3,1121.1 L1593.3,1121.1 L1594.5,1114.3 L1598.4,1114.3 L1599.7,1117.2 L1601.7,1115.3 L1602.7,1113.3 L1604.6,1112.4 L1607.5,1112.8 L1608.5,1114.3 L1613.4,1114.3 L1614.8,1116.3 L1615.9,1122.1 L1617.3,1123.1 L1621.2,1123.1 L1623.2,1125.1 L1624.5,1127.0 L1626.1,1128.4 L1627.7,1127.0 L1631.0,1127.0 L1632.9,1128.4 L1634.9,1127.0 L1636.8,1126.0 L1638.8,1124.5 L1642.7,1124.1 L1644.6,1123.1 L1646.6,1121.5 L1649.1,1120.2 L1652.5,1119.8 L1654.4,1118.2 L1656.4,1117.8 L1657.3,1119.2 L1658.9,1117.2 L1659.7,1113.9 L1661.2,1115.3 L1663.2,1115.3 L1664.8,1117.8 L1666.1,1116.3 L1668.1,1117.2 L1669.5,1115.3 L1671.0,1114.3 L1672.0,1112.4 L1673.9,1112.8 L1675.3,1112.0 L1676.9,1112.8 L1678.8,1110.0 L1680.4,1108.1 L1681.8,1109.4 L1683.1,1106.1 L1684.3,1104.2 L1685.7,1108.1 L1686.6,1111.0 L1689.6,1111.4 L1690.5,1112.8 L1692.5,1112.4 L1694.5,1111.0 L1696.0,1110.0 L1697.4,1107.5 L1698.8,1105.5 L1699.9,1108.1 L1702.3,1108.5 L1703.8,1110.0 L1705.2,1108.5 L1707.7,1108.5 L1709.1,1111.0 L1710.5,1112.4 L1712.0,1111.0 L1714.4,1111.4 L1716.3,1109.4 L1717.5,1102.6 L1718.9,1101.0 L1720.2,1102.2 L1721.8,1103.6 L1724.1,1103.6 L1725.7,1102.2 L1727.3,1104.5 L1729.6,1104.9 L1731.6,1106.1 L1733.9,1105.5 L1735.9,1106.5 L1738.4,1105.5 L1739.8,1104.2 L1741.3,1103.6 L1743.3,1102.6 L1744.3,1096.7 L1745.6,1098.7 L1747.6,1099.7 L1748.8,1108.1 L1750.1,1105.5 L1751.5,1102.6 L1753.4,1102.2 L1754.6,1104.2 L1756.6,1105.5 L1757.9,1107.5 L1759.3,1109.4 L1760.9,1108.5 L1761.8,1104.2 L1764.4,1103.6 L1765.7,1102.6 L1767.7,1104.2 L1769.1,1108.1 L1771.6,1108.1 L1774.5,1107.5 L1776.5,1104.2 L1778.0,1099.7 L1779.4,1099.7 L1780.7,1100.6 L1783.3,1101.0 L1785.6,1099.7 L1791.1,1099.7 L1792.5,1104.9 L1795.0,1106.9 L1802.2,1106.9 L1803.6,1105.5 L1805.2,1111.4 L1806.7,1119.2 L1808.7,1125.1 L1812.0,1126.0 L1814.9,1127.0 L1816.9,1124.1 L1820.4,1121.5 L1825.7,1121.5 L1827.6,1122.7 L1831.5,1122.7 L1833.5,1125.6 L1836.0,1125.6 L1838.0,1119.8 L1839.3,1111.4 L1841.3,1112.4 L1843.2,1108.1 L1844.6,1110.0 L1846.2,1107.5 L1848.1,1110.0 L1851.1,1112.4 L1855.0,1112.4 L1856.9,1111.0 L1858.9,1110.0 L1861.8,1107.5 L1865.3,1106.9 L1867.7,1108.1 L1869.2,1112.8 L1870.6,1119.8 L1873.1,1114.3 L1874.5,1117.8 L1876.4,1121.1 L1880.4,1120.2 L1882.9,1119.2 L1885.2,1119.2 L1886.8,1118.2 L1888.8,1119.8 L1890.7,1117.2 L1893.0,1117.2 L1894.6,1119.2 L1896.0,1112.8 L1898.5,1114.3 L1901.2,1112.4 L1902.8,1117.2 L1904.4,1119.8 L1914.5,1119.8 L1916.5,1121.1 L1919.4,1121.5 L1921.4,1125.6 L1924.3,1127.0 L1926.2,1129.5 L1930.2,1129.9 L1931.7,1131.5 L1933.1,1129.9 L1937.0,1129.5 L1940.9,1128.4 L1942.9,1126.0 L1949.7,1125.6 L1952.6,1124.1 L1955.5,1123.1 L1957.1,1115.9 L1960.4,1115.3 L1962.4,1113.9 L1965.3,1112.4 L1968.2,1110.4 L1971.2,1106.5 L1974.1,1104.5 L1975.5,1098.3 L1982.9,1098.3 L1984.8,1096.7 L1986.4,1098.3 L1987.2,1106.1 L1991.7,1106.1 L1992.7,1106.9 L1994.2,1099.7 L1996.2,1100.6 L1998.5,1099.7 L2000.9,1098.7 L2004.4,1099.7 L2005.9,1096.7 L2007.3,1092.8 L2009.8,1091.3 L2012.2,1089.3 L2015.1,1089.9 L2018.0,1091.3 L2022.0,1091.9 L2023.5,1089.3 L2024.3,1096.7 L2026.8,1096.7 L2028.2,1096.3 L2029.8,1100.6 L2031.7,1104.2 L2033.7,1107.5 L2035.2,1106.5 L2036.6,1113.3 L2038.6,1117.2 L2041.5,1118.6 L2043.4,1120.2 L2046.4,1121.5 L2048.3,1119.2 L2049.7,1117.2 L2053.2,1117.2 L2054.8,1119.2 L2058.1,1119.8 L2061.0,1118.2 L2063.0,1117.2 L2064.9,1115.3 L2066.5,1118.6 L2070.8,1117.8 L2074.7,1117.2 L2076.2,1118.6 L2078.2,1112.4 L2080.5,1113.9 L2082.1,1111.4 L2084.5,1112.4 L2086.0,1113.3 L2088.0,1112.4 L2090.3,1112.4 L2092.3,1111.4 L2093.8,1112.4 L2095.8,1111.0 L2098.1,1113.3 L2101.1,1113.3 L2103.0,1111.4 L2105.0,1108.5 L2106.9,1108.5 L2108.3,1111.4 L2110.8,1112.0 L2112.8,1115.9 L2114.7,1117.2 L2116.7,1113.3 L2118.6,1114.7 L2121.2,1114.3 L2123.5,1114.3 L2125.1,1116.3 L2127.4,1115.3 L2129.4,1112.4 L2131.3,1112.0 L2132.9,1107.5 L2135.2,1105.5 L2138.8,1106.1 L2140.7,1104.5 L2143.0,1103.6 L2146.0,1101.0 L2147.9,1102.2 L2149.9,1100.6 L2151.2,1096.7 L2153.2,1095.8 L2155.2,1089.9 L2157.1,1089.3 L2158.7,1091.9 L2160.6,1086.6 L2161.6,1085.0 L2163.0,1088.9 L2164.5,1091.9 L2166.1,1097.7 L2167.5,1090.9 L2169.4,1090.9 L2170.3,1090.9 L2172.5,1091.7 L2174.7,1090.9 L2176.9,1092.4 L2179.1,1090.2 L2180.3,1088.0 L2181.3,1092.4 L2182.8,1088.7 L2184.2,1085.1 L2185.7,1089.5 L2187.2,1085.8 L2189.4,1085.1 L2190.5,1082.9 L2192.0,1085.1 L2193.7,1083.6 L2195.9,1082.1 L2198.1,1082.9 L2200.3,1079.2 L2202.5,1078.5 L2204.0,1072.6 L2205.5,1067.5 L2207.7,1066.0 L2209.9,1063.8 L2212.1,1063.1 L2213.5,1064.6 L2215.0,1069.0 L2216.4,1071.9 L2217.2,1084.3 L2218.9,1079.9 L2220.8,1077.7 L2222.3,1082.9 L2224.5,1082.1 L2226.7,1082.9 L2228.9,1082.1 L2231.1,1085.1 L2234.0,1086.5 L2235.1,1079.9 L2237.0,1077.7 L2238.4,1076.3 L2239.9,1078.5 L2240.9,1074.8 L2242.1,1079.2 L2244.3,1076.3 L2246.5,1078.5 L2248.7,1078.5 L2249.0,1008.2 L2253.8,1014.0 L2263.3,1016.2 L2269.2,1028.7 L2269.9,1033.1 L2272.1,1036.0 L2274.3,1040.4 L2276.5,1031.6 L2278.0,1028.7 L2279.4,1027.9 L2280.5,1023.5 L2281.6,1017.7 L2282.8,1022.8 L2284.3,1023.5 L2286.0,1029.4 L2288.2,1031.6 L2289.2,1023.5 L2291.2,1017.7 L2292.6,1020.6 L2293.6,1025.7 L2295.5,1023.5 L2297.0,1025.7 L2298.9,1024.3 L2301.0,1025.0 L2302.9,1023.5 L2303.9,1018.4 L2304.8,1015.5 L2306.2,1019.9 L2308.0,1020.6 L2309.5,1019.2 L2310.6,1020.6 L2311.7,1037.5 L2313.1,1033.1 L2314.6,1029.4 L2316.5,1028.7 L2318.3,1027.9 L2319.4,1037.5 L2321.2,1041.1 L2323.4,1041.1 L2325.6,1046.3 L2327.3,1051.4 L2328.8,1047.7 L2330.3,1047.0 L2331.4,1041.1 L2333.2,1040.4 L2334.4,1043.3 L2335.5,1049.2 L2336.6,1034.5 L2338.0,1033.1 L2339.1,1034.5 L2339.1,1137.3 Z M400.0,1137.05H2339.5V1137.30H400.0Z" fill="#FF8800"/>
<path d="M437.7,1022.2 C437.7,959.2 2207.2,1005.0 2207.2,1068.0" fill="none" stroke="#FF8800" stroke-width="0.85"/><path d="M2217.4,1070.9 C2217.4,1007.9 2249.0,938.8 2249.0,1001.8" fill="none" stroke="#FF8800" stroke-width="1.30"/><path d="M438.7,1137.3 C438.7,1200.3 2249.0,1200.3 2249.0,1137.3" fill="none" stroke="#FF8800" stroke-width="4.18"/><path d="M1287.37,956.72H1358.53V1038.98H1287.37ZM1292.63,961.98H1353.27V1033.72H1292.63ZM1293.23,962.58H1352.67V1033.12H1293.23Z" fill="#fff" fill-rule="evenodd"/><text x="1322.9" y="1007.0" font-size="33.33" text-anchor="middle" fill="#000" >2</text><path d="M2197.62,947.97H2268.78V1030.23H2197.62ZM2202.88,953.23H2263.52V1024.97H2202.88ZM2203.48,953.83H2262.92V1024.37H2203.48Z" fill="#fff" fill-rule="evenodd"/><text x="2233.2" y="998.3" font-size="33.33" text-anchor="middle" fill="#000" >6</text><path d="M1297.66,1143.42H1390.04V1225.68H1297.66ZM1302.92,1148.68H1384.78V1220.42H1302.92ZM1303.52,1149.28H1384.18V1219.82H1303.52Z" fill="#fff" fill-rule="evenodd"/><text x="1343.8" y="1193.8" font-size="33.33" text-anchor="middle" fill="#000" >47</text>
<rect x="397.78" y="957.88" width="4.44" height="181.64" fill="#000"/>
<rect x="380.56" y="1135.08" width="19.44" height="4.44" fill="#000"/>
<rect x="380.56" y="1090.78" width="19.44" height="4.44" fill="#000"/>
<text x="361.2" y="1110.2" font-size="44.44" text-anchor="end" fill="#000" >6</text>
<rect x="380.56" y="1046.48" width="19.44" height="4.44" fill="#000"/>
<text x="361.2" y="1065.9" font-size="44.44" text-anchor="end" fill="#000" >12</text>
<rect x="380.56" y="1002.18" width="19.44" height="4.44" fill="#000"/>
<text x="361.2" y="1021.6" font-size="44.44" text-anchor="end" fill="#000" >18</text>
<rect x="380.56" y="957.88" width="19.44" height="4.44" fill="#000"/>
<text x="361.2" y="977.3" font-size="44.44" text-anchor="end" fill="#000" >24</text>
<text transform="translate(273.0,1039.5) rotate(-90)" font-size="44.44" text-anchor="middle" fill="#000">RPKM</text>
<text x="907.4" y="972.1" font-size="44.44" text-anchor="start" fill="#FF8800" textLength="1431.5" lengthAdjust="spacing">AC010642.1 HNRNPL_HepG2_2015-8-18_KD/KO-1 IncLevel: 0.00</text>
</g>
<g>
<path d="M400.0,1449.3 L402.3,1338.0 L404.0,1336.3 L406.4,1325.1 L407.5,1322.8 L409.3,1314.6 L411.1,1307.6 L412.6,1305.8 L413.8,1311.1 L414.6,1319.3 L415.7,1319.3 L416.9,1325.1 L417.7,1329.8 L419.3,1329.2 L420.4,1329.8 L421.0,1333.3 L422.4,1330.4 L423.6,1332.8 L425.1,1338.6 L426.3,1336.3 L427.5,1336.9 L429.2,1343.3 L431.0,1339.8 L432.4,1336.9 L433.9,1335.7 L435.1,1338.6 L436.5,1345.1 L437.4,1343.3 L438.4,1346.2 L438.6,1427.1 L440.4,1426.5 L442.1,1426.5 L443.3,1428.0 L448.6,1428.0 L450.3,1431.2 L452.1,1431.2 L453.2,1435.9 L455.0,1435.9 L455.9,1434.4 L457.1,1437.9 L460.6,1437.9 L462.0,1440.6 L463.4,1443.5 L469.7,1443.5 L470.5,1444.9 L472.0,1444.9 L472.6,1443.3 L478.2,1443.3 L479.4,1444.7 L480.8,1443.3 L483.1,1443.3 L483.7,1441.4 L485.5,1441.4 L486.1,1442.9 L493.1,1442.9 L494.3,1444.7 L501.3,1444.7 L502.1,1443.3 L503.1,1444.7 L508.3,1444.7 L508.9,1441.4 L510.7,1441.4 L511.3,1442.9 L511.8,1441.4 L513.6,1441.4 L514.2,1443.3 L515.4,1441.4 L528.2,1441.2 L529.4,1438.2 L531.4,1434.7 L538.8,1434.7 L539.6,1437.9 L542.3,1437.9 L543.1,1439.8 L544.1,1439.8 L544.7,1438.2 L545.5,1439.8 L553.4,1439.8 L554.6,1438.2 L555.8,1436.5 L558.7,1436.5 L559.9,1439.4 L561.4,1441.7 L563.1,1444.7 L566.3,1444.7 L567.5,1441.7 L568.7,1441.2 L574.5,1441.2 L575.5,1442.9 L584.5,1442.9 L585.7,1444.7 L586.5,1446.1 L588.0,1444.7 L597.4,1444.7 L598.2,1446.4 L598.9,1448.0 L599.7,1446.4 L600.3,1444.7 L617.9,1444.7 L619.7,1446.1 L620.7,1446.2 L629.5,1446.2 L631.5,1447.8 L646.1,1447.8 L647.5,1446.2 L656.9,1446.2 L658.8,1444.9 L660.4,1439.0 L662.3,1438.0 L665.7,1438.0 L667.0,1437.1 L670.5,1437.1 L672.1,1436.1 L677.4,1436.1 L678.4,1437.1 L679.9,1436.1 L686.2,1436.1 L687.7,1434.7 L690.1,1436.1 L691.1,1440.4 L692.4,1442.3 L695.5,1442.3 L696.9,1441.0 L700.8,1441.0 L702.2,1442.3 L704.1,1440.4 L705.7,1439.6 L708.6,1439.6 L709.6,1441.0 L712.5,1441.0 L713.9,1439.6 L717.0,1439.6 L717.8,1441.0 L719.4,1438.0 L726.2,1438.0 L727.2,1439.6 L728.2,1436.1 L730.7,1435.1 L732.1,1434.1 L733.4,1436.1 L735.0,1437.6 L743.8,1437.6 L745.2,1433.5 L748.3,1433.1 L749.1,1436.1 L752.2,1436.1 L753.6,1433.1 L757.5,1433.1 L758.4,1437.6 L760.0,1436.1 L761.4,1437.6 L762.7,1433.1 L765.3,1431.8 L767.2,1431.2 L774.1,1431.2 L775.6,1433.1 L777.6,1434.7 L781.9,1434.7 L782.9,1437.6 L784.2,1434.7 L785.8,1433.1 L788.1,1433.1 L789.3,1431.2 L790.7,1433.1 L792.6,1433.1 L794.0,1437.6 L795.5,1438.0 L797.1,1439.0 L798.5,1437.6 L801.0,1437.1 L802.4,1436.1 L804.3,1435.1 L805.3,1437.6 L809.6,1437.6 L811.2,1436.1 L813.1,1436.1 L813.9,1431.8 L815.1,1435.1 L817.0,1436.1 L819.0,1436.1 L820.5,1437.6 L822.5,1437.6 L823.9,1436.1 L827.2,1436.1 L828.8,1437.6 L830.7,1438.0 L832.7,1439.6 L835.0,1440.0 L836.6,1441.0 L839.5,1441.0 L841.4,1442.3 L843.4,1443.5 L844.4,1447.8 L852.2,1447.8 L853.8,1449.2 L873.7,1449.2 L874.6,1446.2 L882.5,1446.2 L884.4,1444.9 L885.8,1439.6 L888.3,1439.0 L889.7,1437.6 L892.2,1437.1 L894.8,1434.7 L902.0,1434.7 L903.9,1433.5 L905.3,1436.1 L906.5,1433.1 L914.7,1433.1 L916.2,1436.1 L917.6,1436.5 L919.0,1438.4 L920.5,1436.1 L922.1,1437.1 L923.5,1436.1 L925.4,1437.6 L926.8,1436.1 L928.4,1433.1 L929.9,1429.8 L932.3,1429.2 L933.2,1428.3 L934.6,1429.8 L935.8,1433.1 L937.1,1431.2 L939.1,1431.2 L940.5,1429.8 L943.0,1429.2 L944.4,1426.3 L945.9,1424.4 L948.3,1421.4 L950.8,1420.1 L952.8,1421.4 L954.1,1420.5 L956.7,1421.4 L958.0,1424.4 L959.6,1425.9 L960.6,1429.2 L963.5,1429.8 L970.4,1429.8 L971.7,1431.2 L974.3,1431.2 L975.6,1434.7 L977.6,1437.1 L979.1,1440.0 L981.1,1442.3 L985.0,1443.5 L986.6,1444.9 L987.9,1442.9 L990.9,1441.9 L992.8,1441.0 L994.4,1442.3 L998.7,1442.9 L1000.6,1444.9 L1003.6,1444.9 L1004.9,1446.2 L1009.4,1446.2 L1010.7,1446.2 L1014.6,1446.2 L1016.0,1444.3 L1018.0,1446.2 L1020.5,1446.2 L1021.9,1447.8 L1033.6,1447.8 L1035.2,1445.8 L1037.1,1444.3 L1039.1,1443.5 L1041.0,1441.9 L1042.6,1441.0 L1045.9,1441.4 L1046.9,1442.9 L1051.2,1442.9 L1052.7,1440.4 L1055.1,1438.0 L1064.1,1438.0 L1064.8,1436.5 L1066.4,1439.0 L1068.4,1439.6 L1071.3,1439.6 L1072.3,1438.0 L1081.6,1438.0 L1083.0,1440.4 L1085.0,1441.5 L1085.9,1442.9 L1087.5,1441.0 L1091.8,1441.0 L1093.4,1439.6 L1095.3,1439.6 L1096.1,1436.5 L1097.7,1436.1 L1099.2,1434.7 L1101.2,1435.1 L1102.5,1436.1 L1103.9,1437.6 L1105.5,1437.6 L1107.0,1436.1 L1109.0,1435.1 L1110.9,1433.1 L1113.3,1431.2 L1116.8,1431.2 L1118.2,1432.6 L1124.0,1432.6 L1125.0,1430.2 L1126.6,1433.1 L1127.9,1429.8 L1129.3,1431.2 L1131.2,1429.8 L1132.8,1431.2 L1135.7,1431.2 L1137.7,1432.6 L1139.1,1433.1 L1140.6,1434.7 L1142.6,1436.1 L1144.5,1436.5 L1146.1,1433.1 L1147.5,1431.2 L1149.4,1431.2 L1150.8,1428.3 L1153.3,1427.3 L1154.3,1420.1 L1155.9,1423.4 L1156.8,1420.8 L1158.6,1421.4 L1159.8,1418.9 L1161.7,1418.1 L1165.0,1418.9 L1166.0,1418.1 L1171.9,1417.7 L1173.4,1416.2 L1175.4,1416.9 L1177.3,1416.2 L1179.3,1416.9 L1180.7,1416.5 L1182.6,1418.5 L1184.0,1420.5 L1185.2,1428.3 L1187.5,1428.7 L1189.1,1430.2 L1189.8,1436.1 L1191.4,1433.1 L1201.2,1432.8 L1202.7,1429.8 L1204.1,1431.8 L1206.6,1432.2 L1208.0,1435.1 L1210.0,1434.7 L1210.9,1436.1 L1212.5,1428.3 L1213.9,1426.3 L1215.8,1424.4 L1217.2,1418.5 L1218.8,1415.0 L1221.7,1414.6 L1223.0,1416.5 L1224.2,1415.0 L1231.4,1415.0 L1232.8,1418.1 L1237.3,1418.5 L1238.7,1420.5 L1241.8,1421.4 L1243.2,1428.3 L1245.1,1431.8 L1247.1,1434.7 L1248.4,1439.0 L1250.0,1441.0 L1252.0,1440.0 L1253.5,1442.3 L1254.9,1444.9 L1256.8,1444.9 L1258.2,1446.2 L1260.2,1444.9 L1261.7,1442.9 L1263.7,1440.4 L1265.2,1439.0 L1266.6,1438.0 L1276.4,1438.0 L1277.7,1439.6 L1280.3,1439.6 L1281.6,1441.0 L1288.7,1441.0 L1290.0,1439.6 L1291.4,1441.5 L1293.0,1442.9 L1294.9,1444.9 L1296.9,1446.8 L1298.4,1447.8 L1300.4,1446.2 L1302.3,1445.5 L1304.3,1444.9 L1313.5,1444.9 L1314.5,1439.0 L1316.4,1438.0 L1318.8,1437.6 L1321.3,1434.7 L1323.2,1433.1 L1328.1,1432.8 L1329.7,1431.2 L1331.1,1432.8 L1332.4,1429.8 L1334.0,1431.2 L1339.8,1431.2 L1341.4,1427.9 L1342.8,1426.3 L1344.1,1429.8 L1346.7,1429.8 L1348.0,1428.3 L1349.6,1429.2 L1351.2,1431.8 L1353.5,1431.2 L1356.4,1431.2 L1357.8,1429.8 L1359.4,1431.2 L1362.3,1429.2 L1363.7,1432.8 L1365.2,1427.3 L1367.2,1424.4 L1368.8,1423.0 L1370.1,1422.0 L1371.5,1424.8 L1374.0,1424.4 L1376.0,1425.3 L1377.9,1424.0 L1380.5,1424.4 L1381.8,1423.0 L1383.8,1424.4 L1386.7,1424.8 L1388.7,1425.3 L1390.6,1423.4 L1392.2,1420.5 L1394.1,1415.2 L1395.5,1419.5 L1396.9,1421.4 L1398.4,1420.5 L1399.8,1421.4 L1400.7,1422.4 L1403.7,1422.0 L1406.6,1423.4 L1409.5,1423.0 L1412.5,1424.4 L1415.4,1424.4 L1418.3,1424.8 L1420.3,1427.3 L1422.2,1430.2 L1424.2,1434.7 L1426.1,1427.3 L1428.1,1424.8 L1430.0,1424.4 L1431.4,1427.3 L1433.9,1426.7 L1434.9,1424.4 L1437.9,1424.4 L1438.8,1425.9 L1440.4,1424.4 L1443.7,1424.8 L1445.1,1426.3 L1447.0,1425.3 L1448.2,1420.1 L1451.5,1419.5 L1453.5,1418.5 L1455.4,1418.9 L1456.8,1423.4 L1458.4,1424.4 L1459.9,1427.9 L1461.3,1425.3 L1463.2,1421.4 L1464.6,1424.4 L1467.1,1424.8 L1468.5,1427.9 L1470.5,1429.2 L1472.4,1428.7 L1474.4,1426.3 L1476.3,1427.3 L1477.9,1426.3 L1479.5,1427.3 L1480.8,1424.8 L1482.2,1421.4 L1483.8,1423.4 L1485.7,1425.9 L1487.7,1426.3 L1489.6,1429.2 L1491.6,1431.2 L1493.5,1429.2 L1495.5,1428.7 L1497.0,1427.9 L1498.4,1424.4 L1499.8,1412.6 L1501.3,1406.4 L1503.3,1408.3 L1505.2,1409.1 L1507.2,1408.3 L1508.8,1412.2 L1510.7,1414.2 L1512.1,1418.5 L1513.4,1420.1 L1514.6,1416.5 L1518.9,1416.2 L1520.5,1413.6 L1522.4,1413.6 L1523.8,1416.9 L1525.7,1418.9 L1527.7,1420.1 L1529.1,1422.4 L1530.2,1433.1 L1531.0,1440.0 L1536.5,1440.0 L1538.0,1441.0 L1542.0,1441.0 L1543.3,1439.6 L1544.7,1441.5 L1549.8,1441.5 L1551.1,1443.9 L1553.1,1444.9 L1555.0,1443.5 L1559.9,1442.9 L1561.5,1441.4 L1569.7,1441.4 L1571.6,1439.6 L1573.2,1441.4 L1575.5,1441.4 L1577.1,1442.9 L1578.5,1441.4 L1581.0,1441.0 L1582.4,1439.0 L1583.8,1438.0 L1585.7,1439.6 L1593.1,1439.6 L1594.7,1436.5 L1597.0,1435.1 L1600.9,1435.1 L1602.5,1436.1 L1603.9,1429.8 L1606.8,1428.3 L1608.8,1429.8 L1611.7,1430.2 L1613.0,1431.8 L1615.6,1432.8 L1617.5,1431.8 L1623.4,1431.2 L1624.8,1433.1 L1626.3,1434.7 L1627.9,1429.2 L1630.6,1427.9 L1632.2,1426.3 L1633.8,1426.7 L1634.5,1432.8 L1637.1,1433.5 L1638.0,1435.1 L1641.0,1434.7 L1642.3,1433.1 L1646.8,1433.1 L1648.2,1434.7 L1652.7,1434.7 L1654.1,1436.1 L1655.6,1435.1 L1657.2,1439.0 L1658.6,1435.1 L1660.5,1429.2 L1661.9,1425.3 L1663.4,1423.0 L1672.2,1423.0 L1673.2,1421.4 L1677.5,1421.0 L1679.1,1419.5 L1681.0,1419.5 L1682.6,1416.2 L1684.9,1414.2 L1686.5,1413.0 L1687.9,1416.2 L1689.2,1423.4 L1690.8,1426.3 L1692.3,1432.8 L1694.7,1431.8 L1696.6,1430.2 L1698.6,1428.3 L1700.9,1427.3 L1702.5,1424.8 L1704.1,1427.3 L1706.0,1425.9 L1708.0,1427.9 L1710.3,1426.3 L1711.9,1427.9 L1713.2,1424.8 L1715.2,1426.7 L1717.1,1427.3 L1719.1,1425.9 L1721.1,1427.9 L1723.0,1427.3 L1724.4,1431.2 L1725.9,1426.3 L1727.9,1424.8 L1729.5,1425.9 L1730.8,1416.5 L1731.8,1414.6 L1733.4,1418.1 L1736.7,1418.1 L1738.0,1413.0 L1740.6,1413.0 L1741.6,1410.7 L1743.1,1413.6 L1744.5,1407.2 L1746.4,1404.8 L1749.0,1404.8 L1750.4,1406.4 L1752.3,1404.8 L1755.2,1404.8 L1756.8,1411.7 L1758.8,1413.6 L1760.1,1416.2 L1761.5,1424.4 L1766.0,1424.4 L1767.3,1423.4 L1768.9,1427.3 L1771.8,1428.3 L1773.8,1429.2 L1775.2,1434.1 L1776.7,1431.2 L1778.3,1428.3 L1781.6,1428.3 L1783.0,1429.2 L1784.9,1427.9 L1787.5,1424.8 L1789.4,1424.4 L1790.7,1423.4 L1793.7,1424.0 L1796.6,1425.3 L1799.5,1427.9 L1802.5,1429.2 L1804.4,1432.2 L1806.4,1436.5 L1808.3,1441.0 L1810.9,1436.1 L1816.7,1436.1 L1818.7,1439.0 L1821.0,1440.4 L1823.9,1439.0 L1826.9,1437.6 L1834.3,1437.6 L1836.2,1435.1 L1838.6,1434.7 L1840.2,1436.5 L1841.5,1439.0 L1844.1,1439.6 L1845.4,1441.0 L1847.4,1437.6 L1851.3,1436.5 L1855.2,1435.1 L1857.1,1436.1 L1860.1,1434.7 L1865.0,1434.7 L1866.9,1431.2 L1868.9,1428.3 L1871.8,1424.8 L1874.7,1423.0 L1876.7,1420.5 L1878.6,1423.0 L1881.6,1423.0 L1883.5,1424.8 L1885.5,1427.9 L1888.4,1427.9 L1890.4,1426.3 L1894.3,1425.9 L1896.2,1421.4 L1897.6,1426.7 L1899.1,1429.2 L1901.1,1433.5 L1904.0,1435.1 L1907.0,1439.6 L1916.7,1439.6 L1918.3,1437.6 L1920.2,1440.4 L1924.1,1441.0 L1926.1,1445.5 L1928.4,1444.3 L1938.2,1444.3 L1939.8,1442.9 L1944.1,1442.3 L1945.6,1441.0 L1948.0,1441.4 L1949.5,1442.9 L1951.5,1441.9 L1953.4,1439.0 L1955.4,1432.8 L1957.3,1434.7 L1959.3,1433.1 L1961.2,1431.2 L1963.6,1428.3 L1967.9,1427.9 L1969.5,1424.8 L1972.4,1425.3 L1975.3,1421.4 L1977.7,1418.5 L1981.2,1418.1 L1982.7,1419.5 L1984.1,1416.5 L1985.5,1422.0 L1986.6,1423.0 L1989.4,1423.4 L1990.5,1426.3 L1992.9,1425.9 L1993.9,1420.5 L1995.8,1421.4 L1999.7,1421.4 L2001.1,1423.4 L2004.6,1424.0 L2006.2,1422.4 L2009.5,1424.0 L2013.4,1423.4 L2015.4,1424.4 L2017.3,1423.0 L2022.6,1423.0 L2024.1,1431.8 L2031.0,1432.2 L2032.9,1431.2 L2034.9,1432.8 L2036.2,1440.4 L2038.2,1439.6 L2043.7,1439.0 L2045.6,1436.5 L2048.6,1437.1 L2050.5,1436.1 L2053.4,1436.1 L2055.4,1434.7 L2057.3,1436.5 L2064.2,1436.5 L2066.1,1437.6 L2068.1,1436.1 L2070.0,1437.1 L2072.0,1433.5 L2073.9,1436.5 L2075.9,1437.6 L2077.9,1434.7 L2079.8,1436.1 L2081.8,1434.7 L2084.3,1435.1 L2085.7,1436.1 L2088.2,1433.1 L2091.5,1432.8 L2093.5,1431.2 L2095.4,1432.8 L2099.3,1432.8 L2101.3,1428.3 L2102.7,1431.2 L2105.2,1429.8 L2107.1,1430.6 L2109.7,1429.2 L2112.0,1430.2 L2114.4,1429.2 L2116.9,1426.3 L2119.8,1424.8 L2122.2,1423.4 L2124.7,1418.9 L2126.7,1416.5 L2128.6,1414.6 L2130.0,1411.7 L2131.6,1416.5 L2133.1,1418.1 L2135.1,1414.2 L2136.4,1412.6 L2138.4,1415.2 L2140.9,1414.2 L2142.9,1413.0 L2144.8,1414.6 L2146.8,1412.6 L2149.1,1413.6 L2151.1,1410.7 L2153.0,1410.3 L2155.0,1412.6 L2157.0,1415.6 L2159.3,1413.6 L2161.8,1411.7 L2163.8,1409.7 L2166.3,1410.7 L2168.7,1408.7 L2170.6,1409.7 L2172.6,1407.8 L2174.5,1406.8 L2176.1,1409.1 L2179.4,1410.3 L2179.8,1412.4 L2181.3,1416.1 L2183.5,1419.8 L2185.7,1421.2 L2187.6,1415.4 L2189.1,1414.6 L2190.1,1419.0 L2191.1,1422.4 L2193.7,1421.5 L2196.7,1420.9 L2199.6,1419.8 L2201.8,1419.0 L2203.3,1420.5 L2204.3,1421.2 L2205.2,1413.9 L2206.9,1409.5 L2208.4,1406.6 L2210.2,1402.9 L2212.1,1398.5 L2213.5,1394.9 L2215.0,1393.4 L2216.4,1394.1 L2217.2,1403.7 L2218.9,1404.4 L2220.8,1402.9 L2222.7,1402.2 L2224.2,1399.3 L2225.7,1400.0 L2227.1,1402.9 L2228.9,1401.5 L2230.4,1400.0 L2231.8,1402.2 L2233.6,1405.1 L2234.8,1399.3 L2236.2,1397.1 L2237.7,1395.6 L2239.2,1398.5 L2240.6,1401.5 L2242.1,1404.4 L2243.5,1405.1 L2245.0,1408.8 L2246.5,1410.3 L2248.7,1411.0 L2249.0,1345.1 L2255.3,1342.1 L2263.3,1340.7 L2268.4,1352.4 L2269.6,1355.3 L2270.6,1348.0 L2271.7,1345.1 L2272.8,1348.7 L2274.3,1345.1 L2275.8,1339.2 L2277.2,1336.3 L2279.0,1336.3 L2280.2,1329.0 L2281.3,1307.0 L2282.4,1309.2 L2283.8,1304.1 L2284.9,1293.1 L2286.0,1293.8 L2287.2,1299.7 L2289.0,1296.7 L2290.4,1292.3 L2291.6,1290.6 L2293.1,1298.2 L2294.5,1307.0 L2296.3,1312.1 L2298.0,1309.9 L2299.9,1314.3 L2301.4,1320.2 L2302.4,1321.6 L2303.6,1311.4 L2304.8,1302.6 L2306.2,1307.0 L2307.3,1310.6 L2308.7,1307.0 L2310.2,1307.7 L2311.2,1327.5 L2312.1,1348.7 L2313.9,1349.5 L2315.3,1355.3 L2316.1,1361.2 L2317.1,1357.5 L2318.3,1357.5 L2319.7,1360.4 L2321.5,1363.4 L2322.6,1356.8 L2323.8,1346.5 L2324.5,1340.7 L2325.6,1346.5 L2327.0,1348.7 L2328.5,1348.7 L2330.0,1345.1 L2331.1,1337.7 L2331.9,1332.6 L2332.9,1334.1 L2334.1,1337.7 L2335.1,1349.5 L2336.1,1340.7 L2337.3,1337.0 L2338.5,1340.7 L2339.1,1343.6 L2339.1,1449.3 Z M400.0,1449.05H2339.5V1449.30H400.0Z" fill="#FF8800"/>
<path d="M437.7,1345.3 C437.7,1279.2 2207.2,1343.8 2207.2,1409.9" fill="none" stroke="#FF8800" stroke-width="0.85"/><path d="M2217.4,1396.3 C2217.4,1330.3 2249.0,1274.1 2249.0,1340.1" fill="none" stroke="#FF8800" stroke-width="1.10"/><path d="M438.7,1449.3 C438.7,1514.9 2249.0,1514.9 2249.0,1449.3" fill="none" stroke="#FF8800" stroke-width="4.01"/><path d="M1287.37,1286.89H1358.53V1369.15H1287.37ZM1292.63,1292.15H1353.27V1363.89H1292.63ZM1293.23,1292.75H1352.67V1363.29H1293.23Z" fill="#fff" fill-rule="evenodd"/><text x="1322.9" y="1337.2" font-size="33.33" text-anchor="middle" fill="#000" >2</text><path d="M2197.62,1277.57H2268.78V1359.83H2197.62ZM2202.88,1282.83H2263.52V1354.57H2202.88ZM2203.48,1283.43H2262.92V1353.97H2203.48Z" fill="#fff" fill-rule="evenodd"/><text x="2233.2" y="1327.9" font-size="33.33" text-anchor="middle" fill="#000" >4</text><path d="M1297.66,1457.37H1390.04V1539.63H1297.66ZM1302.92,1462.63H1384.78V1534.37H1302.92ZM1303.52,1463.23H1384.18V1533.77H1303.52Z" fill="#fff" fill-rule="evenodd"/><text x="1343.8" y="1507.7" font-size="33.33" text-anchor="middle" fill="#000" >40</text>
<rect x="397.78" y="1269.88" width="4.44" height="181.64" fill="#000"/>
<rect x="380.56" y="1447.08" width="19.44" height="4.44" fill="#000"/>
<rect x="380.56" y="1402.78" width="19.44" height="4.44" fill="#000"/>
<text x="361.2" y="1422.2" font-size="44.44" text-anchor="end" fill="#000" >6</text>
<rect x="380.56" y="1358.48" width="19.44" height="4.44" fill="#000"/>
<text x="361.2" y="1377.9" font-size="44.44" text-anchor="end" fill="#000" >12</text>
<rect x="380.56" y="1314.18" width="19.44" height="4.44" fill="#000"/>
<text x="361.2" y="1333.6" font-size="44.44" text-anchor="end" fill="#000" >18</text>
<rect x="380.56" y="1269.88" width="19.44" height="4.44" fill="#000"/>
<text x="361.2" y="1289.3" font-size="44.44" text-anchor="end" fill="#000" >24</text>
<text transform="translate(273.0,1351.5) rotate(-90)" font-size="44.44" text-anchor="middle" fill="#000">RPKM</text>
<text x="907.4" y="1284.1" font-size="44.44" text-anchor="start" fill="#FF8800" textLength="1431.5" lengthAdjust="spacing">AC010642.1 HNRNPL_HepG2_2015-8-18_KD/KO-2 IncLevel: 0.00</text>
</g>
<rect x="397.78" y="1553.38" width="1943.64" height="4.44" fill="#000"/>
<rect x="397.78" y="1555.60" width="4.44" height="20.30" fill="#000"/>
<text x="400.0" y="1620.0" font-size="35.80" text-anchor="middle" fill="#000" >58817454</text>
<rect x="785.62" y="1555.60" width="4.44" height="20.30" fill="#000"/>
<text x="787.8" y="1620.0" font-size="35.80" text-anchor="middle" fill="#000" >58818728</text>
<rect x="1173.46" y="1555.60" width="4.44" height="20.30" fill="#000"/>
<text x="1175.7" y="1620.0" font-size="35.80" text-anchor="middle" fill="#000" >58820003</text>
<rect x="1561.30" y="1555.60" width="4.44" height="20.30" fill="#000"/>
<text x="1563.5" y="1620.0" font-size="35.80" text-anchor="middle" fill="#000" >58821277</text>
<rect x="1949.14" y="1555.60" width="4.44" height="20.30" fill="#000"/>
<text x="1951.4" y="1620.0" font-size="35.80" text-anchor="middle" fill="#000" >58822552</text>
<rect x="2336.98" y="1555.60" width="4.44" height="20.30" fill="#000"/>
<text x="2339.2" y="1620.0" font-size="35.80" text-anchor="middle" fill="#000" >58823827</text>
<text x="1370.2" y="1683.3" font-size="44.44" text-anchor="middle" fill="#000" >Genomic coordinate (chr19), &quot;+&quot; strand</text>
<path d="M400.0,2194.0 L2340.9,2194.0" stroke="#000" stroke-width="2.78"/>
<path d="M431.03,2182.10 L438.79,2194.00 L431.03,2205.90 M469.82,2182.10 L477.58,2194.00 L469.82,2205.90 M508.61,2182.10 L516.37,2194.00 L508.61,2205.90 M547.40,2182.10 L555.16,2194.00 L547.40,2205.90 M586.19,2182.10 L593.95,2194.00 L586.19,2205.90 M624.98,2182.10 L632.74,2194.00 L624.98,2205.90 M663.77,2182.10 L671.53,2194.00 L663.77,2205.90 M702.56,2182.10 L710.32,2194.00 L702.56,2205.90 M741.35,2182.10 L749.11,2194.00 L741.35,2205.90 M780.14,2182.10 L787.90,2194.00 L780.14,2205.90 M818.93,2182.10 L826.69,2194.00 L818.93,2205.90 M857.72,2182.10 L865.48,2194.00 L857.72,2205.90 M896.51,2182.10 L904.27,2194.00 L896.51,2205.90 M935.30,2182.10 L943.06,2194.00 L935.30,2205.90 M974.09,2182.10 L981.85,2194.00 L974.09,2205.90 M1012.88,2182.10 L1020.64,2194.00 L1012.88,2205.90 M1051.67,2182.10 L1059.43,2194.00 L1051.67,2205.90 M1090.46,2182.10 L1098.22,2194.00 L1090.46,2205.90 M1129.25,2182.10 L1137.01,2194.00 L1129.25,2205.90 M1168.04,2182.10 L1175.80,2194.00 L1168.04,2205.90 M1206.83,2182.10 L1214.59,2194.00 L1206.83,2205.90 M1245.62,2182.10 L1253.38,2194.00 L1245.62,2205.90 M1284.41,2182.10 L1292.17,2194.00 L1284.41,2205.90 M1323.20,2182.10 L1330.96,2194.00 L1323.20,2205.90 M1361.99,2182.10 L1369.75,2194.00 L1361.99,2205.90 M1400.78,2182.10 L1408.54,2194.00 L1400.78,2205.90 M1439.57,2182.10 L1447.33,2194.00 L1439.57,2205.90 M1478.36,2182.10 L1486.12,2194.00 L1478.36,2205.90 M1517.15,2182.10 L1524.91,2194.00 L1517.15,2205.90 M1555.94,2182.10 L1563.70,2194.00 L1555.94,2205.90 M1594.73,2182.10 L1602.49,2194.00 L1594.73,2205.90 M1633.52,2182.10 L1641.28,2194.00 L1633.52,2205.90 M1672.31,2182.10 L1680.07,2194.00 L1672.31,2205.90 M1711.10,2182.10 L1718.86,2194.00 L1711.10,2205.90 M1749.89,2182.10 L1757.65,2194.00 L1749.89,2205.90 M1788.68,2182.10 L1796.44,2194.00 L1788.68,2205.90 M1827.47,2182.10 L1835.23,2194.00 L1827.47,2205.90 M1866.26,2182.10 L1874.02,2194.00 L1866.26,2205.90 M1905.05,2182.10 L1912.81,2194.00 L1905.05,2205.90 M1943.84,2182.10 L1951.60,2194.00 L1943.84,2205.90 M1982.63,2182.10 L1990.39,2194.00 L1982.63,2205.90 M2021.42,2182.10 L2029.18,2194.00 L2021.42,2205.90 M2060.21,2182.10 L2067.97,2194.00 L2060.21,2205.90 M2099.00,2182.10 L2106.76,2194.00 L2099.00,2205.90 M2137.79,2182.10 L2145.55,2194.00 L2137.79,2205.90 M2176.58,2182.10 L2184.34,2194.00 L2176.58,2205.90 M2215.37,2182.10 L2223.13,2194.00 L2215.37,2205.90 M2254.16,2182.10 L2261.92,2194.00 L2254.16,2205.90 M2292.95,2182.10 L2300.71,2194.00 L2292.95,2205.90 " stroke="#000" stroke-width="2.78" fill="none" stroke-linecap="square" stroke-linejoin="miter"/>
<rect x="400.0" y="2164.3" width="38.7" height="59.4" fill="#000"/>
<rect x="2207.2" y="2164.3" width="10.2" height="59.4" fill="#000"/>
<rect x="2249.0" y="2164.3" width="90.5" height="59.4" fill="#000"/>
<path d="M400.0,2392.6 L2340.9,2392.6" stroke="#000" stroke-width="2.78"/>
<path d="M431.03,2380.70 L438.79,2392.60 L431.03,2404.50 M469.82,2380.70 L477.58,2392.60 L469.82,2404.50 M508.61,2380.70 L516.37,2392.60 L508.61,2404.50 M547.40,2380.70 L555.16,2392.60 L547.40,2404.50 M586.19,2380.70 L593.95,2392.60 L586.19,2404.50 M624.98,2380.70 L632.74,2392.60 L624.98,2404.50 M663.77,2380.70 L671.53,2392.60 L663.77,2404.50 M702.56,2380.70 L710.32,2392.60 L702.56,2404.50 M741.35,2380.70 L749.11,2392.60 L741.35,2404.50 M780.14,2380.70 L787.90,2392.60 L780.14,2404.50 M818.93,2380.70 L826.69,2392.60 L818.93,2404.50 M857.72,2380.70 L865.48,2392.60 L857.72,2404.50 M896.51,2380.70 L904.27,2392.60 L896.51,2404.50 M935.30,2380.70 L943.06,2392.60 L935.30,2404.50 M974.09,2380.70 L981.85,2392.60 L974.09,2404.50 M1012.88,2380.70 L1020.64,2392.60 L1012.88,2404.50 M1051.67,2380.70 L1059.43,2392.60 L1051.67,2404.50 M1090.46,2380.70 L1098.22,2392.60 L1090.46,2404.50 M1129.25,2380.70 L1137.01,2392.60 L1129.25,2404.50 M1168.04,2380.70 L1175.80,2392.60 L1168.04,2404.50 M1206.83,2380.70 L1214.59,2392.60 L1206.83,2404.50 M1245.62,2380.70 L1253.38,2392.60 L1245.62,2404.50 M1284.41,2380.70 L1292.17,2392.60 L1284.41,2404.50 M1323.20,2380.70 L1330.96,2392.60 L1323.20,2404.50 M1361.99,2380.70 L1369.75,2392.60 L1361.99,2404.50 M1400.78,2380.70 L1408.54,2392.60 L1400.78,2404.50 M1439.57,2380.70 L1447.33,2392.60 L1439.57,2404.50 M1478.36,2380.70 L1486.12,2392.60 L1478.36,2404.50 M1517.15,2380.70 L1524.91,2392.60 L1517.15,2404.50 M1555.94,2380.70 L1563.70,2392.60 L1555.94,2404.50 M1594.73,2380.70 L1602.49,2392.60 L1594.73,2404.50 M1633.52,2380.70 L1641.28,2392.60 L1633.52,2404.50 M1672.31,2380.70 L1680.07,2392.60 L1672.31,2404.50 M1711.10,2380.70 L1718.86,2392.60 L1711.10,2404.50 M1749.89,2380.70 L1757.65,2392.60 L1749.89,2404.50 M1788.68,2380.70 L1796.44,2392.60 L1788.68,2404.50 M1827.47,2380.70 L1835.23,2392.60 L1827.47,2404.50 M1866.26,2380.70 L1874.02,2392.60 L1866.26,2404.50 M1905.05,2380.70 L1912.81,2392.60 L1905.05,2404.50 M1943.84,2380.70 L1951.60,2392.60 L1943.84,2404.50 M1982.63,2380.70 L1990.39,2392.60 L1982.63,2404.50 M2021.42,2380.70 L2029.18,2392.60 L2021.42,2404.50 M2060.21,2380.70 L2067.97,2392.60 L2060.21,2404.50 M2099.00,2380.70 L2106.76,2392.60 L2099.00,2404.50 M2137.79,2380.70 L2145.55,2392.60 L2137.79,2404.50 M2176.58,2380.70 L2184.34,2392.60 L2176.58,2404.50 M2215.37,2380.70 L2223.13,2392.60 L2215.37,2404.50 M2254.16,2380.70 L2261.92,2392.60 L2254.16,2404.50 M2292.95,2380.70 L2300.71,2392.60 L2292.95,2404.50 " stroke="#000" stroke-width="2.78" fill="none" stroke-linecap="square" stroke-linejoin="miter"/>
<rect x="400.0" y="2362.9" width="38.7" height="59.4" fill="#000"/>
<rect x="2249.0" y="2362.9" width="90.5" height="59.4" fill="#000"/>
</svg></body></html>
